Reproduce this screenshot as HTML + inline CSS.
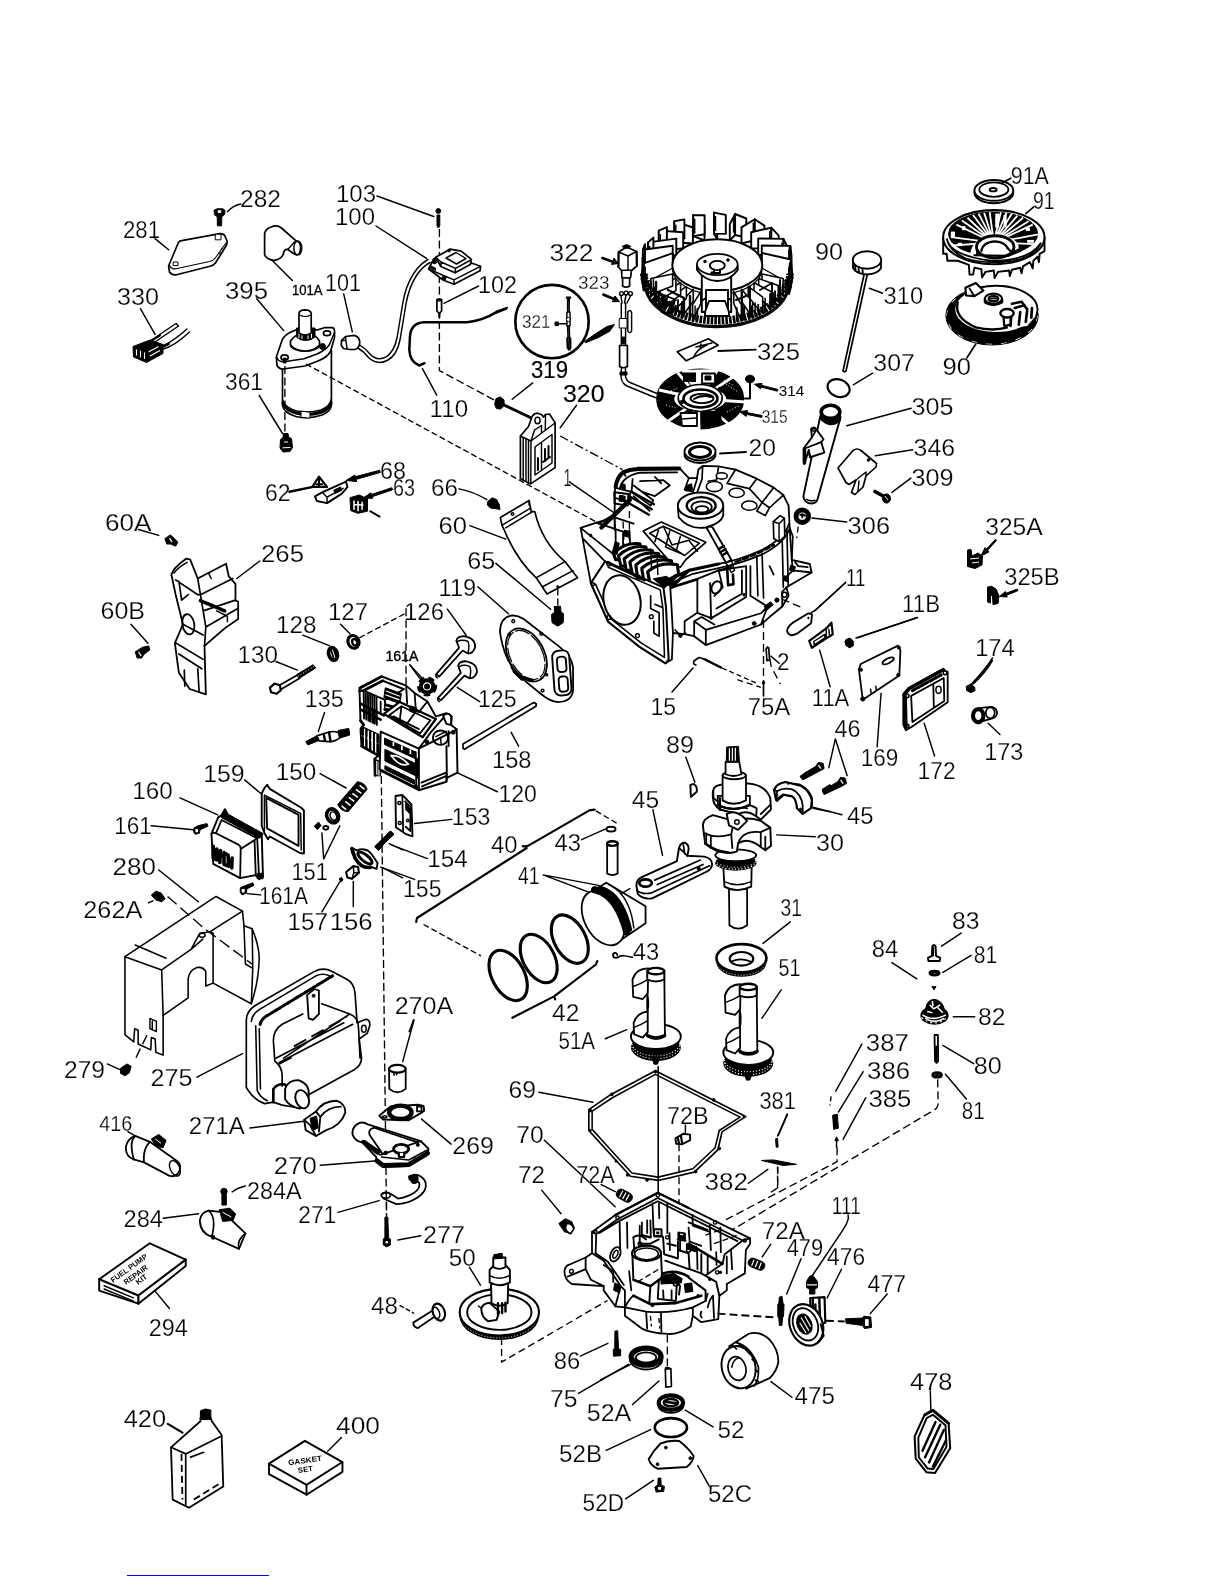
<!DOCTYPE html>
<html><head><meta charset="utf-8"><title>Engine parts diagram</title>
<style>
html,body{margin:0;padding:0;background:#fff}
body{width:1225px;height:1585px;overflow:hidden;position:relative}
svg{display:block;position:absolute;left:0;top:0;will-change:transform}
.l{fill:none;stroke:#000;stroke-width:1.45;stroke-linecap:round;stroke-linejoin:round}
.t{fill:none;stroke:#000;stroke-width:1.1;stroke-linecap:round;stroke-linejoin:round}
.w{fill:#fff;stroke:#000;stroke-width:1.7;stroke-linejoin:round;stroke-linecap:round}
.k{fill:#000;stroke:#000;stroke-width:1;stroke-linejoin:round}
.g{fill:#777;stroke:#000;stroke-width:1;stroke-linejoin:round}
.d{fill:none;stroke:#000;stroke-width:1.35;stroke-dasharray:5 3}
.dd{fill:none;stroke:#000;stroke-width:1.35;stroke-dasharray:9 3 2 3}
.b{fill:none;stroke:#000;stroke-width:2;stroke-linecap:round;stroke-linejoin:round}
.ns *{vector-effect:non-scaling-stroke}
text{font-family:"Liberation Sans",sans-serif;font-size:24.5px;fill:#000;stroke:#fff;stroke-width:0.25px;paint-order:fill stroke}
text.s{font-size:14px;stroke:#000;stroke-width:0.3px}
text.m{font-size:18px;stroke-width:0.3px}
text.sm{font-size:15px;stroke:none}
text.sb{font-size:15px;stroke:#000;stroke-width:0.4px}
text.m2{font-size:22px}
text.bd{stroke:#000;stroke-width:0.15px}
</style></head><body>
<svg width="1225" height="1585" viewBox="0 0 1225 1585">
<!-- 281 cover + 282 screw -->
<g>
<path class="w" d="M168.6 266 L178.4 242.5 Q179.5 240.8 183 240.4 L220 233.6 Q223.5 233.4 225 236 L227 241 Q227.5 243.5 226 246 L215.5 263 Q214 265 210 266.3 L176.5 274.8 Q172 275.5 169.5 272 Z"/>
<path class="t" d="M169.2 264.5 Q170.5 269.5 176 268.8 L209.5 261.5 Q213.5 260.5 215.3 258 L226 243"/>
<rect class="w" x="215.6" y="234.2" width="5.4" height="5.6" style="stroke-width:1"/>
<rect class="w" x="173.6" y="262" width="4.4" height="3.6" style="stroke-width:1"/>
<path class="t" d="M221 250 l1.5 -2 M219 254 l1.2 -1.8"/>
<path class="k" d="M214 210.2 L217 208.8 L223 208.8 L225 210.5 L224.5 214.5 L221.8 216.7 L221.6 225.8 L217.4 225.8 L217.2 216.7 L214.6 214.8 Z"/>
<rect x="217.8" y="210.3" width="3.4" height="2.6" fill="#fff"/>
<path class="l" d="M240.8 204 Q233 205.5 227.4 211.8"/>
<path class="l" d="M153.9 237.6 L168.6 249.8"/>
</g>
<!-- 101A boot -->
<g>
<path class="w" d="M264.6 254.7 L264.6 233.5 Q265.5 229 271 227 Q277 224.5 281.5 228 L296 240.8 Q301.5 241 301.6 248 Q301.5 255 297 255 L293.5 253.5 L287.5 249.3 Q284 249 283.5 253.5 Q282.5 257.5 277.5 259.5 Q273 261.5 268 258.5 Q265 257 264.6 254.7 Z"/>
<ellipse class="l" cx="297.2" cy="248" rx="3.3" ry="6.8"/>
<path class="l" d="M294.5 242 L288 249.3" />
<path class="l" d="M271.4 259.6 L292.3 280.4"/>
</g>
<!-- 330 connector -->
<g>
<path class="k" d="M133 346.5 L150 340 L163 344.5 L163 353.5 L146.5 362.5 L133.5 357 Z"/>
<path d="M136.5 349.5 l0 6 M140.5 350.8 l0 6.5 M144.5 352.5 l0 6.5 M148.5 352 l10 -5.5 M150 356 l10 -5.5" stroke="#fff" stroke-width="1.1" fill="none"/>
<path class="l" d="M150 341 L176 323.5 M153.5 343 L178.5 326 M176 323.5 L178.5 326" />
<path class="l" d="M160 346.5 Q170 344 187 329 M163 349 Q174 346.5 189.5 332"/>
<path class="b" d="M150.5 341.5 L160 335.5 M161 347.5 L169 344"/>
<path class="l" d="M140.4 308.6 L155.1 334.3"/>
</g>
<!-- 395 starter -->
<g>
<path class="w" d="M282.5 366 L282.5 405.5 Q284 413 296 416.5 Q309 419.5 322 415 Q331 411.5 331.4 405 L331.4 350 Z"/>
<path class="l" d="M282.5 400 Q285 408 297 411 Q309 413.5 321 410 Q330 406.5 331.4 399"/>
<path class="b" d="M283 403.5 Q286 410.5 297 413.3 Q309 416 321 412.3 Q329.5 409 331 403" style="stroke-width:3.12"/>
<path class="w" d="M301 411.5 L301 417.3 L310 418.2 L310 412.5 Z" style="stroke-width:1"/>
<path class="w" d="M276.3 357 L282 340.5 Q284 335.5 290 332.5 L297 329.5 L318 329.8 L325 327.5 L332.5 327.6 Q334.8 328.5 334.6 333 L334.4 338 L330.5 351.5 Q327 357.5 318 361 L305 366 L283 369 Q279 369 277 365.5 Z"/>
<path class="l" d="M276.8 357.5 Q278.5 362 284 361.8 L304 358.8 L317 354 Q326 350 329.5 344.5 L334.3 333"/>
<ellipse class="l" cx="305" cy="345" rx="14.5" ry="6.2"/>
<path class="w" d="M290.5 345 L290.5 341 Q296 333 305 333 Q315 333 319.5 341 L319.5 345 Q314 351 305 351 Q296 351 290.5 345 Z"/>
<path class="k" d="M296.5 328 L296.5 337 Q300 340.5 305.5 340.5 Q311.5 340.5 315 337 L315 328 Z"/>
<path d="M299 331 l0 7 M302 332 l0 7 M308 332 l0 7 M311.5 331 l0 7" stroke="#fff" stroke-width="1" fill="none"/>
<path class="w" d="M299 333 L299 313.5 Q299.3 310 305 309.8 Q310.8 310 311.2 313.5 L311.2 333 Q305 337 299 333 Z"/>
<path class="t" d="M299.5 315 Q305 318 311 315"/>
<ellipse class="w" cx="284.6" cy="357.4" rx="3.6" ry="2.6"/>
<ellipse class="w" cx="327" cy="333.3" rx="3.6" ry="2.4"/>
<circle class="k" cx="322.5" cy="346.5" r="3"/>
<path class="k" d="M283.5 358 l2.5 0 l0 5 l-2.5 0 Z"/>
<path class="d" d="M284.9 366 L284.9 434" style="stroke-dasharray:8 3.5"/>
<path class="l" d="M256.7 298.8 L283.7 330.6"/>
<path class="d" d="M306 364 L408 419.5" style="stroke-dasharray:6 3"/>
</g>
<!-- 361 screw -->
<g>
<path class="k" d="M283.5 433.5 L288 433.5 L288.5 437 L291.5 438.5 L292.5 447.5 L290 451.5 L283 452 L280 448 L280.5 439.5 L283 437.5 Z"/>
<path d="M282.5 447.8 L290.5 447.5 M284 442 l4 0" stroke="#fff" stroke-width="1" fill="none"/>
<path class="l" d="M259.2 395.5 L282.5 433.5"/>
</g>
<!-- 101 connector + wire -->
<g>
<path class="w" d="M341.5 340.5 L345.5 336.5 L354 335.3 Q359.5 336.5 359.8 342 Q359.5 348 355.5 349.3 L350 349.5 L343.5 348.5 L341.3 345.5 Z"/>
<path class="l" d="M345.5 336.8 L347 348.8 M341.5 340.5 L346 340.2"/>
<path class="l" d="M343.7 293.9 L352.3 331.8"/>
</g>

<!-- 101 wire double -->
<g>
<path class="l" d="M359.6 345 Q366 349 370 354 Q377 361.5 386 357 Q394 352 397 338 Q400 320 403 302 Q406 285 414 273 Q420 264 428 259.5"/>
<path class="l" d="M358.5 348.5 Q364 351.5 368 357 Q377 366 388 360 Q397 355 400 340 Q403 322 406 304 Q409 287 416.5 275.5 Q422 267 430 262.5"/>
</g>
<!-- 103 -->
<g>
<path class="l" d="M377 196 L433.7 216.5"/>
<circle class="k" cx="438.3" cy="211" r="2.4"/>
<path class="k" d="M437 215 L439.8 215 L439.8 226 L438.4 228 L437 226 Z"/>
<path class="d" d="M439.4 229 L439.4 370.6 L496 401" style="stroke-dasharray:8 3.5"/>
</g>
<!-- 100 module -->
<g>
<path class="l" d="M376 226 L426.5 258.4"/>
<path class="w" d="M428.6 269 L434 258.5 L447 254.5 L480.6 266.2 L480 270.8 L454 284.2 L443 280 Z"/>
<path class="l" d="M428.6 269 L443.5 275.5 L454 279.8 L480.4 266.4 M454 279.8 L454 284"/>
<path class="w" d="M435.7 257.3 L450 249.2 L461.2 251.2 L471.4 259.4 L470.4 264.5 L455.1 272.7 L440.8 266.5 Z"/>
<path class="l" d="M441 262 L455.5 268.3 L470.8 260 M455.5 268.3 L455.2 272.5 M441 262 L436 257.5 M441 262 L441 266.3"/>
<path class="l" d="M446 258 L456 252.5 L466 258.5 L456.5 264 Z"/>
<circle class="k" cx="434.5" cy="261.5" r="2.2"/>
<circle class="k" cx="444" cy="278" r="2"/>
<circle class="k" cx="449" cy="250.5" r="1.4"/>
<path class="k" d="M430.5 266 l5 2 l0 2.4 l-5 -2 Z"/>
</g>
<!-- 102 -->
<g>
<path class="w" d="M436.9 299.5 L441.6 299.5 L441.6 311 L439.8 313 L439.4 318 L438.8 313 L436.9 311 Z"/>
<path class="k" d="M437 299 l4.6 0 l0 2 l-4.6 0 Z"/>
<path class="l" d="M478.6 286 L443.9 303.3"/>
</g>
<!-- 110 wire -->
<g>
<path class="b" d="M496 312.4 Q482 321 467 322.2 L424 322.2 Q411 323 410 336 L409.3 350 Q410 362 419.4 365.5 L424.5 363.2" style="stroke-width:2.52"/>
<path class="l" d="M495.5 313.2 L506.5 309 L507.3 307.4 L496.3 311.2" />
<path class="l" d="M422.4 368.6 L436.7 395.1"/>
</g>
<!-- 321 circle -->
<g>
<circle cx="552" cy="321.6" r="36.7" fill="#fff" stroke="#000" stroke-width="2.64"/>
<path class="l" d="M567.6 300 L567.6 312 M569.2 300 L569.2 312 M566.9 312 L570 312 L570 326 L566.9 326 Z M567.6 326 L568.4 350 M569.2 326 L570 350 M567 338 L570.6 338 L570.8 348 L567.3 348 Z"/>
<path class="k" d="M566 297 L571 297 L568.5 301.5 Z"/>
<circle class="w" cx="568.4" cy="319.5" r="2" style="stroke-width:1"/>
<path class="k" d="M555 322 l3.4 0 l0 3.6 l-3.4 0 Z"/>
<path class="l" d="M558 323.8 L566.5 323.8"/>
<path class="k" d="M584.5 341.5 Q596 333 607 326.5 L614.5 324.5 L609.5 331.5 Q598 338.5 585.5 342.8 Z"/>
</g>
<!-- 322 connector -->
<g>
<path class="k" d="M602 257 L613 261 L614 258 L618 263.5 L611.5 264.5 L612.3 262.5 L601.5 258.6 Z"/>
<path class="w" d="M618.6 252 L626.5 247 L636.6 251.5 L636.8 266 L631.5 270.5 L630.5 278 L622 278 L621.5 270.5 L618.4 267 Z"/>
<path class="l" d="M618.6 252 L628 256 L636.6 251.5 M628 256 L628 270 M621.5 270.5 L628 270 L631.5 270.5"/>
<path class="k" d="M622 246.5 L626.5 244.5 L631 246.5 L626.5 248.6 Z"/>
<path class="b" d="M618.6 252 L618.4 267 M636.7 251.5 L636.8 266"/>
<path class="w" d="M622.6 278 L629.6 278 L629.6 286 Q626 288.5 622.6 286 Z"/>
</g>
<!-- 323 wire assembly -->
<g>
<path class="k" d="M603 293.5 L614 298 L615 296 L619.5 301.5 L612.5 301.8 L613.3 299.7 L602.5 295.2 Z"/>
<circle class="l" cx="621.5" cy="293.5" r="1.9"/><circle class="l" cx="626" cy="293" r="1.9"/><circle class="l" cx="630.5" cy="293.5" r="1.9"/>
<path class="l" d="M621 296 L622 303 M626 295 L624.5 303 M630.5 296 L627 303"/>
<path class="l" d="M621.3 303 L621.3 345 M625.6 303 L625.6 345 M627.8 312 Q629.8 309 631.6 312 L631.6 331 Q629.8 334.5 627.8 331 Z"/>
<path class="w" d="M619.6 318.5 L627 318.5 L627 328 L619.6 328 Z" style="stroke-width:1"/>
<path class="k" d="M622.5 337 l2.2 0 l0 7 l-2.2 0 Z"/>
<path class="w" d="M619.6 345.5 L627.4 345.5 L627.4 366.5 Q623.5 369 619.6 366.5 Z"/>
<path class="l" d="M621.5 368 L621 376 Q621 383 627 386 L650 395.5 L676 405.5 M625.5 368 L625.3 374.5 Q625.5 380.5 630 382.5 L652 391.5 L678 401.5"/>
<path class="k" d="M620 372 l7 0 l0 3 l-7 0 Z"/>
</g>
<!-- 319 screw -->
<g>
<path class="k" d="M496 398.5 L500.5 397 L504 400 L504.2 405.5 L500.5 409.2 L496.2 408.3 L494.6 404 Z"/>
<path class="b" d="M503 404.5 L530.6 417.6" style="stroke-width:2.88;stroke-dasharray:1.4 1"/>
<path class="l" d="M532.7 382.9 L512.2 399.2"/>
</g>
<!-- 320 module -->
<g>
<path class="w" d="M520.4 436 L528.5 426.5 L531.5 418 Q533 413.5 537.5 413.2 L541.5 414.5 L543.5 417 L545.5 414.5 L549.5 414 L555.1 422.7 L555.1 467.6 L530.6 483.9 L520.4 478.8 Z"/>
<path class="l" d="M520.4 436 L531 441 L555 423 M531 441 L530.8 483.5 M523.2 437.5 L523.2 480 M526 438.8 L526 481.5 M528.5 440 L528.5 482.5"/>
<path class="l" d="M531 441 L534.5 430 L541.5 425.5 L541.5 432.5 M545.5 414.5 L545.3 429.5"/>
<ellipse class="l" cx="537.5" cy="420.5" rx="2.6" ry="3.2"/>
<path class="l" d="M535 447 L552 434.5 L552 463 L535 475 Z M541.5 443 L541.5 470.5"/>
<path class="b" d="M538 458 L538 470 M545 449 L545 461 M548.5 446 L548.5 458 M543 462 L550 457"/>
<path class="l" d="M576.5 405.3 L560.2 427.8"/>
<path class="dd" d="M560.2 436 L622.4 469.6"/>
</g>
<path class="d" d="M408 419.5 L600 524" style="stroke-dasharray:6 3"/>
<path class="l" d="M569.4 481.8 L626 521"/>

<!-- flywheel 90 -->
<g>
<ellipse cx="717" cy="281.6" rx="75.5" ry="49" fill="#fff" stroke="none"/>
<path class="w" style="stroke-width:1.92" d="M717.2 239.3 L717.2 223.3 L714.0 212.6 L714.0 233.6 Z"/>
<path class="w" style="stroke-width:1.92" d="M714.0 233.6 L714.0 212.6 L725.8 214.9 L725.8 233.9 Z"/>
<path class="l" d="M715.5 216.6 L715.5 230.6"/>
<path class="w" style="stroke-width:1.92" d="M729.8 240.3 L729.8 224.3 L735.1 214.0 L735.1 235.0 Z"/>
<path class="w" style="stroke-width:1.92" d="M735.1 235.0 L735.1 214.0 L746.3 218.5 L746.3 237.5 Z"/>
<path class="l" d="M733.6 218.0 L733.6 232.0"/>
<path class="w" style="stroke-width:1.92" d="M704.5 240.4 L704.5 224.4 L693.2 215.1 L693.2 236.1 Z"/>
<path class="w" style="stroke-width:1.92" d="M693.2 236.1 L693.2 215.1 L704.6 215.3 L704.6 234.3 Z"/>
<path class="l" d="M694.7 219.1 L694.7 233.1"/>
<path class="w" style="stroke-width:1.92" d="M741.5 243.4 L741.5 227.4 L754.8 219.2 L754.8 240.2 Z"/>
<path class="w" style="stroke-width:1.92" d="M754.8 240.2 L754.8 219.2 L764.4 225.6 L764.4 244.6 Z"/>
<path class="l" d="M753.3 223.2 L753.3 237.2"/>
<path class="w" style="stroke-width:1.92" d="M692.9 243.5 L692.9 227.5 L674.3 221.3 L674.3 242.3 Z"/>
<path class="w" style="stroke-width:1.92" d="M674.3 242.3 L674.3 221.3 L684.4 219.4 L684.4 238.4 Z"/>
<path class="l" d="M675.8 225.3 L675.8 239.3"/>
<path class="w" style="stroke-width:1.92" d="M751.2 248.2 L751.2 232.2 L771.3 227.7 L771.3 248.7 Z"/>
<path class="w" style="stroke-width:1.92" d="M771.3 248.7 L771.3 227.7 L778.7 235.7 L778.7 254.7 Z"/>
<path class="l" d="M769.8 231.7 L769.8 245.7"/>
<path class="w" style="stroke-width:1.92" d="M683.2 248.3 L683.2 232.3 L658.8 230.6 L658.8 251.6 Z"/>
<path class="w" style="stroke-width:1.92" d="M658.8 251.6 L658.8 230.6 L666.9 227.1 L666.9 246.1 Z"/>
<path class="l" d="M660.3 234.6 L660.3 248.6"/>
<path class="w" style="stroke-width:1.92" d="M758.2 254.4 L758.2 238.4 L783.5 238.9 L783.5 259.9 Z"/>
<path class="w" style="stroke-width:1.92" d="M783.5 259.9 L783.5 238.9 L788.0 248.0 L788.0 267.0 Z"/>
<path class="l" d="M782.0 242.9 L782.0 256.9"/>
<path class="w" style="stroke-width:1.92" d="M676.3 254.6 L676.3 238.6 L648.1 242.4 L648.1 263.4 Z"/>
<path class="w" style="stroke-width:1.92" d="M648.1 263.4 L648.1 242.4 L653.4 237.6 L653.4 256.6 Z"/>
<path class="l" d="M649.6 246.4 L649.6 260.4"/>
<path class="w" style="stroke-width:1.92" d="M761.8 261.5 L761.8 245.5 L790.3 245.9 L790.3 272.9 Z"/>
<path class="w" style="stroke-width:1.92" d="M790.3 272.9 L790.3 245.9 L791.5 255.5 L791.5 280.5 Z"/>
<path class="l" d="M788.8 249.9 L788.8 269.9"/>
<path class="w" style="stroke-width:1.92" d="M672.7 261.7 L672.7 245.7 L642.9 249.7 L642.9 276.7 Z"/>
<path class="w" style="stroke-width:1.92" d="M642.9 276.7 L642.9 249.7 L645.0 244.2 L645.0 269.2 Z"/>
<path class="l" d="M644.4 253.7 L644.4 273.7"/>
<path class="w" style="stroke-width:1.92" d="M761.9 268.9 L761.9 252.9 L791.1 259.5 L791.1 286.5 Z"/>
<path class="w" style="stroke-width:1.92" d="M791.1 286.5 L791.1 259.5 L789.0 269.0 L789.0 294.0 Z"/>
<path class="l" d="M789.6 263.5 L789.6 283.5"/>
<path class="w" style="stroke-width:1.92" d="M672.8 269.1 L672.8 253.1 L643.7 263.3 L643.7 290.3 Z"/>
<path class="w" style="stroke-width:1.92" d="M643.7 290.3 L643.7 263.3 L642.5 257.7 L642.5 282.7 Z"/>
<path class="l" d="M645.2 267.3 L645.2 287.3"/>
<ellipse class="w" cx="717.3" cy="265.3" rx="45" ry="26" style="stroke-width:1.92"/>
<path class="w" d="M644.5 283.6 A72.5 44 0 0 0 789.5 283.6 L762.3 268.3 A 45 26 0 0 1 672.3 268.3 Z" style="stroke-width:1.2"/>
<path class="w" style="stroke-width:1.56" d="M762.0 274.0 L762.0 286.0 L783.1 294.6 L783.1 278.6 Z"/>
<path class="l" d="M785.6 279.6 L785.6 293.6"/>
<path class="w" style="stroke-width:1.56" d="M758.7 278.6 L758.7 290.6 L778.2 301.5 L778.2 285.5 Z"/>
<path class="l" d="M780.7 286.5 L780.7 300.5"/>
<path class="w" style="stroke-width:1.56" d="M754.0 282.8 L754.0 294.8 L771.3 307.8 L771.3 291.8 Z"/>
<path class="l" d="M773.8 292.8 L773.8 306.8"/>
<path class="w" style="stroke-width:1.56" d="M748.2 286.4 L748.2 298.4 L762.7 313.2 L762.7 297.2 Z"/>
<path class="l" d="M765.2 298.2 L765.2 312.2"/>
<path class="w" style="stroke-width:1.56" d="M741.4 289.3 L741.4 301.3 L752.6 317.7 L752.6 301.7 Z"/>
<path class="l" d="M755.1 302.7 L755.1 316.7"/>
<path class="w" style="stroke-width:1.56" d="M733.8 291.5 L733.8 303.5 L741.4 320.9 L741.4 304.9 Z"/>
<path class="l" d="M743.9 305.9 L743.9 319.9"/>
<path class="w" style="stroke-width:1.56" d="M700.8 291.5 L700.8 303.5 L692.6 320.9 L692.6 304.9 Z"/>
<path class="l" d="M695.1 305.9 L695.1 319.9"/>
<path class="w" style="stroke-width:1.56" d="M693.2 289.3 L693.2 301.3 L681.4 317.7 L681.4 301.7 Z"/>
<path class="l" d="M683.9 302.7 L683.9 316.7"/>
<path class="w" style="stroke-width:1.56" d="M686.4 286.4 L686.4 298.4 L671.3 313.2 L671.3 297.2 Z"/>
<path class="l" d="M673.8 298.2 L673.8 312.2"/>
<path class="w" style="stroke-width:1.56" d="M680.6 282.8 L680.6 294.8 L662.7 307.8 L662.7 291.8 Z"/>
<path class="l" d="M665.2 292.8 L665.2 306.8"/>
<path class="w" style="stroke-width:1.56" d="M675.9 278.6 L675.9 290.6 L655.8 301.5 L655.8 285.5 Z"/>
<path class="l" d="M658.3 286.5 L658.3 300.5"/>
<path class="w" style="stroke-width:1.56" d="M672.6 274.0 L672.6 286.0 L650.9 294.6 L650.9 278.6 Z"/>
<path class="l" d="M653.4 279.6 L653.4 293.6"/>
<path class="b" style="stroke-width:1.8" d="M787.4 277.2 L787.4 286.2"/>
<path class="b" style="stroke-width:1.8" d="M785.6 281.0 L785.6 291.0"/>
<path class="b" style="stroke-width:1.8" d="M782.9 284.7 L782.9 295.7"/>
<path class="b" style="stroke-width:1.8" d="M779.4 288.1 L779.4 300.1"/>
<path class="b" style="stroke-width:1.8" d="M775.1 291.2 L775.1 304.2"/>
<path class="b" style="stroke-width:1.8" d="M770.1 294.0 L770.1 308.0"/>
<path class="b" style="stroke-width:1.8" d="M764.5 302.5 L764.5 311.5"/>
<path class="b" style="stroke-width:1.8" d="M758.2 304.6 L758.2 314.6"/>
<path class="b" style="stroke-width:1.8" d="M751.4 306.2 L751.4 317.2"/>
<path class="b" style="stroke-width:1.8" d="M744.2 307.3 L744.2 319.3"/>
<path class="b" style="stroke-width:1.8" d="M736.7 307.9 L736.7 320.9"/>
<path class="b" style="stroke-width:1.8" d="M697.3 308.9 L697.3 320.9"/>
<path class="b" style="stroke-width:1.8" d="M689.8 306.3 L689.8 319.3"/>
<path class="b" style="stroke-width:1.8" d="M682.6 303.2 L682.6 317.2"/>
<path class="b" style="stroke-width:1.8" d="M675.8 305.6 L675.8 314.6"/>
<path class="b" style="stroke-width:1.8" d="M669.5 301.5 L669.5 311.5"/>
<path class="b" style="stroke-width:1.8" d="M663.9 297.0 L663.9 308.0"/>
<path class="b" style="stroke-width:1.8" d="M658.9 292.2 L658.9 304.2"/>
<path class="b" style="stroke-width:1.8" d="M654.6 287.1 L654.6 300.1"/>
<path class="b" style="stroke-width:1.8" d="M651.1 281.7 L651.1 295.7"/>
<path class="b" style="stroke-width:1.8" d="M648.4 282.0 L648.4 291.0"/>
<path class="b" style="stroke-width:1.8" d="M646.6 276.2 L646.6 286.2"/>
<path class="b" style="stroke-width:2.4" d="M648 286 L664 297 L664 308 M656 282 L656 300 M668 290 L684 298 L684 312 M672 303 L672 316 M690 296 L690 318 M660 305 Q668 300 674 308 Q670 316 662 312 Z M676 310 l6 3 M650 300 l10 6"/>
<path class="b" style="stroke-width:1.92" d="M742 292 L742 318 M750 286 L750 316 M760 290 L772 283 L772 306 M780 280 L780 300 M736 300 L746 296"/>
<path class="w" style="stroke-width:1.92" d="M701.8 272 L701.8 312 L731.2 312 L731.2 272 Z"/>
<path class="w" style="stroke-width:1.92" d="M697 266 L697 270 Q705 281 717.3 281 Q730 281 737.7 270 L737.7 266 Z"/>
<ellipse class="w" cx="717.3" cy="264.5" rx="20.4" ry="10.6" style="stroke-width:1.8"/>
<ellipse class="l" cx="717.3" cy="265.5" rx="7.5" ry="4.6" style="stroke-width:1.92"/>
<path class="b" d="M714 269.5 L714 273 L720 273 L720 269.5"/>
<circle class="k" cx="705" cy="261.5" r="1.3"/><circle class="k" cx="728" cy="260" r="1.3"/><circle class="k" cx="712" cy="273" r="1.2"/>
<path class="l" d="M706 290 L728 290 M706 290 L706 312 M728 290 L728 312 M703 300 L706 298 M731 300 L728 298" style="stroke-width:1.92"/>
<path class="w" style="stroke-width:1.92" d="M705 312 L709 301 L725 301 L729 312 L729 316 L705 316 Z"/>
<path class="b" d="M652 290 L676 300 M655 296 L672 304 M660 292 L663 300 M668 296 Q664 303 670 306 Q676 305 674 299 M678 300 L678 310 M682 302 L682 311" style="stroke-width:1.8"/>
<path d="M645.5 282.6 A71.5 44 0 0 0 788.5 282.6" fill="none" stroke="#000" stroke-width="1.68"/>
<path d="M644.0 273.6 A73 47 0 0 0 790.0 273.6" fill="none" stroke="#000" stroke-width="7.68" stroke-dasharray="2.6 1.1"/>
<path d="M641.5 275.6 A75.5 50 0 0 0 792.5 275.6" fill="none" stroke="#000" stroke-width="1.2"/>
<path class="l" d="M641.5 275.6 L645.5 247.6 M792.5 275.6 L789.5 247.6" style="stroke-width:1.8"/>
</g>
<!-- 325 key -->
<g>
<path class="w" d="M677.3 351.8 L708.4 338.8 L718.2 345.3 L686.3 360.8 Z"/>
<path class="l" d="M693 358 Q697 349 707 345 M696 347 L712 343 M701 344 L700 349"/>
<path class="l" d="M755.7 349.6 L718.2 351" style="stroke-width:1.8"/>
</g>
<!-- 315 stator -->
<g>
<ellipse cx="700.2" cy="399" rx="35" ry="21.5" fill="#fff" stroke="#000" stroke-width="18"/>
<g stroke="#fff" stroke-width="2.88" fill="none">
<path d="M700 399 L672 366 M700 399 L659 390 M700 399 L664 424 M700 399 L740 372 M700 399 L746 402 M700 399 L733 428"/>
</g>
<g stroke="#fff" stroke-width="1" fill="none" stroke-dasharray="1 2">
<path d="M726 384 L738 392 M727 412 L739 406 M724 380 L734 386 M668 392 L678 388 M666 405 L676 408"/>
</g>
<path d="M700 399 L681 370 L720 369 Z M700 399 L678 430 L700.5 431 Z" fill="#fff"/>
<ellipse cx="700.2" cy="398" rx="22" ry="13.5" fill="#fff" stroke="#000" stroke-width="1.68"/>
<ellipse cx="700.5" cy="398.5" rx="17" ry="9" fill="#fff" stroke="#000" stroke-width="2.64"/>
<ellipse cx="702" cy="398.5" rx="11.5" ry="4.6" fill="#fff" stroke="#000" stroke-width="1.92"/>
<path class="b" d="M694 399 Q702 394 711 397"/>
<path d="M683 372.5 L696 372.5 L696 382 L683 382 Z" fill="#000"/>
<path class="w" d="M702 373.5 L715 373.5 L715 383.5 L702 383.5 Z" style="stroke-width:1.8"/>
<path class="k" d="M705 376 l6 0 l0 4 l-6 0 Z"/>
<path class="w" d="M680.5 413 L697 413 L697 426 L682 426 Z" style="stroke-width:1.8"/>
<path class="l" d="M682 419 L696 418"/>
<path d="M700.5 412 L721 410 L722 424 L701 428 Z" fill="#000"/>
<circle class="k" cx="682" cy="402" r="1.8"/><circle class="k" cx="720" cy="389" r="1.8"/><circle class="k" cx="691" cy="411" r="1.6"/>
<path class="k" d="M762.2 415.6 L747 412.6 L747.6 410.6 L739.6 411.6 L746.2 416.4 L746.6 414.4 L761.8 417.4 Z"/>
</g>
<!-- 314 screw -->
<g>
<ellipse class="k" cx="750" cy="379" rx="4.6" ry="3.8"/>
<path class="b" d="M750 382 L750 398.5 L745 398.5"/>
<path class="k" d="M777.8 389.4 L761.5 385.3 L762 383.3 L754.5 384.3 L760.5 388.8 L761 387 L777.4 391.2 Z"/>
</g>
<!-- 20 seal -->
<g>
<ellipse class="w" cx="700" cy="454.5" rx="15.5" ry="8.5" style="stroke-width:1.92"/>
<ellipse cx="700" cy="451.5" rx="15.5" ry="9" fill="#fff" stroke="#000" stroke-width="1.92"/>
<ellipse cx="700" cy="452" rx="10.5" ry="5.5" fill="#fff" stroke="#000" stroke-width="3.12"/>
<path class="l" d="M746 452 L720 453.5" style="stroke-width:1.8"/>
</g>

<!-- engine block 1 : coords in zoom px of region (570,460) scale 4.7115 -->
<g class="ns" transform="translate(570 460) scale(0.212245)">
<path class="w" style="stroke-width:1.8" d="M50 320 L125 295 L210 270 L212 130 L225 85 L250 58 L320 40 L515 38 L560 85 L598 85 L605 45 L625 28 L700 30 L780 45 L880 88 L960 130 L1005 165 L1030 215 L1035 320 L1045 470 L1130 490 L1138 530 L1020 600 L1030 640 L1000 690 L940 740 L900 775 L640 872 L585 830 L540 820 L485 815 L480 940 L450 958 L330 882 L180 762 L98 580 Z"/>
<!-- top deck inner rim -->
<path class="l" style="stroke-width:1.8" d="M235 135 Q245 78 330 60 L505 58 M212 130 L290 150 L295 90 M215 180 L275 195 L285 150 M250 58 L262 75 M290 150 L380 215 L392 190 L300 120 M300 170 L375 240 M330 100 L440 95 L470 120 L400 170 L340 150 M400 80 L430 110"/>
<path class="k" d="M242 110 l18 6 l0 22 l-18 -6 Z M235 165 l20 6 l0 25 l-20 -6 Z"/>
<path class="b" d="M320 42 L515 40 M215 125 Q222 80 250 58 Q280 44 320 42" style="stroke-width:4.08"/>
<path class="b" d="M282 188 L148 318" style="stroke-width:4.32"/>
<path class="b" d="M290 150 L395 208 M282 172 L385 232 M280 205 L372 258" style="stroke-width:2.4"/>
<path class="d" d="M280 240 L280 420 M250 290 L255 400" style="stroke-dasharray:7 4"/>
<path class="l" d="M208 152 L275 160 L272 215 L210 205 Z M235 170 L258 173 L256 195 L234 192 Z" style="stroke-width:1.92"/>
<!-- top deck right part -->
<path class="l" style="stroke-width:1.68" d="M560 85 L540 140 L580 150 L600 85 M625 28 L622 90 L600 150 M700 30 L690 95 L650 100 M780 45 L740 110 M880 88 L845 135 M960 130 L905 200 L940 225 L1005 165 M905 200 L880 240 L920 262 L940 225 M740 110 L845 135 L905 200"/>
<ellipse class="w" cx="680" cy="125" rx="38" ry="24" style="stroke-width:1.56"/>
<ellipse class="w" cx="785" cy="155" rx="36" ry="22" style="stroke-width:1.56"/>
<ellipse class="w" cx="845" cy="215" rx="36" ry="22" style="stroke-width:1.56"/>
<ellipse class="w" cx="715" cy="75" rx="26" ry="15" style="stroke-width:1.56"/>
<path class="k" d="M548 120 l25 -8 l4 30 l-32 4 Z"/>
<!-- bearing boss -->
<path class="w" style="stroke-width:1.8" d="M508 215 L512 270 Q560 330 640 318 Q710 300 722 262 L722 215 Z"/>
<ellipse class="w" cx="615" cy="215" rx="107" ry="62" style="stroke-width:1.92"/>
<ellipse class="l" cx="618" cy="215" rx="68" ry="40" style="stroke-width:2.4"/>
<ellipse class="l" cx="620" cy="222" rx="48" ry="27" style="stroke-width:1.8"/>
<ellipse class="l" cx="622" cy="232" rx="30" ry="15" style="stroke-width:1.8"/>
<!-- big deck surface arc (front edge of upper deck) -->
<path class="l" style="stroke-width:1.8" d="M1032 300 Q1010 370 900 425 Q800 470 700 490 L560 520 L470 560"/>
<path class="l" style="stroke-width:1.8" d="M1034 325 Q1010 392 905 445 Q800 490 705 508 L580 536 L475 580"/>
<path class="b" d="M780 480 Q880 445 960 400" style="stroke-width:2.64;stroke-dasharray:5 3"/>
<!-- right post -->
<path class="w" style="stroke-width:1.68" d="M958 290 L990 262 L1010 275 L1012 360 L985 385 L960 370 Z"/>
<path class="l" d="M985 300 L985 385 M958 290 L985 300 L1010 275"/>
<path class="l" style="stroke-width:1.68" d="M1000 385 L1005 600 M1022 330 L1028 590 M880 450 L885 640 M905 440 L912 650 M940 500 L960 540 M1045 470 L1050 360 L1035 320"/>
<!-- dipstick stub tube -->
<path class="w" style="stroke-width:1.92" d="M645 322 Q655 308 672 318 L720 400 L760 470 L735 485 L700 420 Z"/>
<path class="b" d="M700 420 L725 405 M708 435 L733 420 M716 450 L741 435" style="stroke-width:2.4"/>
<path class="l" d="M735 485 L760 530 L775 520 L760 470"/>
<!-- left cuboid -->
<path class="l" style="stroke-width:1.8" d="M50 320 L200 440 M62 372 L165 478 M125 295 L270 345 M210 270 L300 300 M215 330 L215 440 M250 345 L250 440 M280 330 L285 430 M200 440 L215 385"/>
<circle class="k" cx="97" cy="355" r="6"/>
<path class="k" d="M255 330 l22 6 l0 28 l-22 -6 Z"/>
<path class="b" d="M210 270 L212 330 M135 300 L230 245" style="stroke-width:2.16"/>
<!-- valve box top -->
<path class="w" style="stroke-width:1.68" d="M345 335 L430 292 L640 388 L545 470 L520 505 L480 490 Z"/>
<path class="l" style="stroke-width:1.56" d="M375 345 L440 312 L610 392 L540 450 Z M420 320 L400 385 M470 335 L450 410 L520 440 M520 360 L500 430 M560 378 L600 430 M440 312 L480 400 L560 378"/>
<!-- fins -->
<g>
<path class="w" style="stroke-width:3.12" d="M205 440 Q260 385 330 395 L335 470 L215 470 Z"/>
<path class="w" style="stroke-width:3.12" d="M228 452 Q285 398 358 410 L364 500 L240 500 Z"/>
<path class="w" style="stroke-width:3.12" d="M255 466 Q312 412 388 426 L394 520 L265 520 Z"/>
<path class="w" style="stroke-width:3.12" d="M282 480 Q340 426 418 442 L424 545 L295 545 Z"/>
<path class="w" style="stroke-width:3.12" d="M310 495 Q370 442 448 458 L455 565 L320 565 Z"/>
<path class="w" style="stroke-width:3.12" d="M338 510 Q398 458 478 475 L486 585 L350 585 Z"/>
<path class="w" style="stroke-width:3.12" d="M366 526 Q424 476 506 494 L512 540 L440 600 L380 600 Z"/>
<path class="l" d="M380 420 L385 520 M410 436 L414 540"/>
</g>
<path class="k" d="M200 440 L215 385 L232 392 L222 445 Z M392 560 L440 600 L470 560 L455 548 Z"/>
<path class="b" d="M478 600 L560 520 M470 562 L560 520 L700 490" style="stroke-width:3.12"/>
<!-- flange face -->
<path class="w" style="stroke-width:2.04" d="M165 478 L440 600 L452 690 L465 940 L450 958 L330 882 L180 762 L98 580 Z"/>
<path class="l" style="stroke-width:1.56" d="M180 505 L425 612 L438 700 L445 925 M120 585 L195 750 L335 862 L445 930"/>
<ellipse class="w" cx="245" cy="660" rx="86" ry="118" transform="rotate(-14 245 660)" style="stroke-width:2.04"/>
<circle class="l" cx="183" cy="490" r="9"/><circle class="l" cx="322" cy="552" r="9"/><circle class="l" cx="183" cy="742" r="9"/><circle class="l" cx="318" cy="828" r="9"/><circle class="l" cx="383" cy="738" r="9"/><circle class="l" cx="108" cy="585" r="7"/>
<path class="l" style="stroke-width:1.68" d="M380 640 L380 700 L420 720 L420 830 L395 815 L395 760 M400 680 L435 695"/>
<path class="b" d="M175 482 L300 540 M305 545 L350 565" style="stroke-width:2.88"/>
<!-- right of flange: crankcase lower body -->
<path class="l" style="stroke-width:1.8" d="M470 560 L478 690 L485 815 M445 555 L470 560 L500 540 M478 600 L600 560 L700 520 L830 500 M600 560 L600 720 L540 760 L540 820 M660 580 L665 745 M600 720 L665 745 L700 725 L830 645 L830 500 M690 700 L810 630 L810 520 M850 640 L930 690 L900 775 M585 760 L640 800 L900 722 L930 690 M640 800 L640 872 M585 760 L585 830 M585 760 L620 740 L680 775 M850 640 L850 500 M700 520 L720 600 L680 640"/>
<path class="b" d="M480 600 L600 562 M700 522 L760 505 M740 500 L745 590 L770 585 L768 540" style="stroke-width:2.64"/>
<ellipse class="l" cx="690" cy="600" rx="22" ry="30" transform="rotate(25 690 600)" style="stroke-width:1.92"/>
<circle class="k" cx="520" cy="828" r="8"/><circle class="k" cx="868" cy="770" r="9"/><circle class="k" cx="665" cy="745" r="6"/><circle class="k" cx="820" cy="635" r="6"/>
<path class="l" d="M495 800 L520 828 L545 815"/>
<!-- right ear -->
<path class="l" style="stroke-width:1.8" d="M1045 470 L1050 520 L1138 530 M1050 520 L1010 560 M1060 480 L1075 500 L1120 505 M1020 600 L1000 620 L1000 690"/>
<path class="k" d="M1040 495 l22 8 l-6 24 l-22 -8 Z M1010 545 l18 6 l-4 22 l-20 -6 Z"/>
<circle class="k" cx="975" cy="660" r="10"/><circle class="l" cx="1010" cy="635" r="12"/>
<path class="k" d="M915 690 l30 -22 l12 14 l-30 26 Z"/>
</g>

<!-- region (380,470) scale 5.568 -->
<g class="ns" transform="translate(380 470) scale(0.179592)">
<!-- 66 -->
<path class="k" d="M600 175 L625 155 L650 165 L665 195 L668 220 L640 215 L615 212 L598 195 Z"/>
<path class="l" d="M440 105 Q520 120 595 165"/>
<path class="l" d="M0 125 L70 108"/>
<!-- 60 baffle -->
<path class="w" d="M670 265 L830 170 L842 232 L862 232 Q900 400 1030 510 L1100 600 L930 690 L870 600 Q760 500 690 330 L680 310 Z"/>
<path class="l" d="M683 305 L838 212 M700 322 L845 235 M870 600 L1030 510 M905 650 L1075 560 M830 170 L830 195"/>
<circle class="l" cx="738" cy="245" r="7"/><circle class="k" cx="990" cy="650" r="6"/>
<path class="l" d="M500 310 L700 385"/>
<!-- 65 -->
<path class="d" d="M990 660 L990 760" style="stroke-dasharray:7 3"/>
<path class="k" d="M970 760 L1005 758 L1008 790 L1022 800 L1020 850 L990 870 L958 850 L955 805 L972 792 Z"/>
<path class="l" d="M645 520 L950 775"/>
<!-- 119 gasket -->
<path class="w" style="stroke-width:1.8" d="M668 900 Q670 815 740 810 Q770 812 800 830 L1000 985 Q1070 1040 1075 1100 L1075 1225 Q1070 1290 990 1292 Q950 1290 900 1250 L790 1160 Q690 1070 668 900 Z"/>
<ellipse class="w" cx="815" cy="1030" rx="100" ry="158" transform="rotate(-27 815 1030)" style="stroke-width:1.8"/>
<ellipse class="l" cx="815" cy="1030" rx="90" ry="146" transform="rotate(-27 815 1030)" style="stroke-width:1.2;stroke-dasharray:14 3"/>
<path class="b" d="M735 1100 Q770 1160 850 1170 M745 1120 L790 1165" style="stroke-width:2.88"/>
<rect class="w" x="965" y="1005" width="95" height="250" rx="35" transform="rotate(-4 1010 1130)" style="stroke-width:1.92"/>
<rect class="l" x="990" y="1040" width="50" height="85" rx="18" transform="rotate(-4 1010 1130)" style="stroke-width:1.92"/>
<rect class="l" x="992" y="1150" width="50" height="85" rx="18" transform="rotate(-4 1010 1130)" style="stroke-width:1.92"/>
<circle class="l" cx="742" cy="842" r="8"/><circle class="l" cx="898" cy="912" r="8"/><circle class="l" cx="905" cy="1228" r="8"/><circle class="l" cx="720" cy="915" r="6"/><circle class="l" cx="928" cy="1140" r="6"/>
<path class="l" d="M545 650 L715 800"/>
<!-- valves 126 125 -->
<path class="w" style="stroke-width:1.8" d="M425 950 Q430 925 470 925 L500 935 Q530 950 530 985 Q520 1020 490 1022 L460 1005 L330 1150 L312 1138 L440 990 Z"/>
<path class="l" d="M430 955 Q460 940 490 955 Q500 975 490 1020 M312 1138 Q308 1150 320 1158"/>
<path class="w" style="stroke-width:1.8" d="M435 1090 Q440 1065 480 1065 L510 1075 Q540 1090 540 1125 Q530 1160 500 1160 L470 1145 L340 1282 L322 1270 L450 1130 Z"/>
<path class="l" d="M440 1095 Q470 1080 500 1095 Q510 1115 500 1158 M322 1270 Q318 1282 330 1290"/>
<path class="l" d="M375 775 L480 920 M555 1290 L430 1210"/>
<!-- 161A gear -->
<circle class="k" cx="262" cy="1205" r="46" style="stroke-width:3.6;stroke-dasharray:6 4"/>
<circle cx="262" cy="1205" r="20" fill="none" stroke="#fff" stroke-width="1.2"/>
<path class="l" d="M165 1085 L240 1165"/>
<!-- dashes -->
<path class="d" d="M145 770 L145 1392" style="stroke-dasharray:8 3.5"/>

<!-- 158 rod upper end -->
<path class="l" d="M700 1385 L860 1295 Q875 1300 870 1312 L715 1400"/>
</g>

<!-- region (930,165) scale 7.205 -->
<g class="ns" transform="translate(930 165) scale(0.138792)">
<!-- 91A -->
<ellipse class="w" cx="460" cy="200" rx="140" ry="75" style="stroke-width:1.92"/>
<ellipse class="w" cx="460" cy="183" rx="140" ry="75" style="stroke-width:1.92"/>
<ellipse class="l" cx="460" cy="177" rx="105" ry="52" style="stroke-width:1.8"/>
<ellipse class="l" cx="455" cy="178" rx="25" ry="12" style="stroke-width:1.92"/>
<path class="l" d="M582 95 L520 130" style="stroke-width:1.68"/>
<!-- 91 fan -->
<path class="w" style="stroke-width:1.92" d="M95 520 L95 640 L120 640 L125 690 L200 690 L280 720 L285 790 L310 790 L320 740 L370 750 L375 810 L400 770 L460 760 L465 815 L490 770 L570 760 L575 800 L590 755 L650 740 L660 780 L670 730 L720 700 L740 745 L745 690 L775 660 L785 700 L790 640 L825 620 L825 520 Z"/>
<ellipse class="w" cx="460" cy="520" rx="365" ry="195" style="stroke-width:2.04"/>
<ellipse cx="455" cy="495" rx="325" ry="160" fill="#000"/>
<g stroke="#fff" fill="none" stroke-width="1.8">
<path d="M460 560 L150 520 M460 560 L190 430 M460 560 L270 380 M460 560 L350 350 M460 560 L430 340 M460 560 L510 340 M460 560 L590 350 M460 560 L670 380 M460 560 L740 430 M460 560 L780 500 M460 560 L760 570 M460 560 L160 580 M460 560 L230 400 M460 560 L310 360 M460 560 L390 345 M460 560 L550 345 M460 560 L630 365 M460 560 L710 405"/>
</g>
<g fill="#fff"><rect x="150" y="480" width="30" height="40"/><rect x="230" y="440" width="25" height="30"/><rect x="690" y="450" width="30" height="25"/><rect x="700" y="540" width="50" height="20"/><rect x="470" y="350" width="28" height="100"/><rect x="530" y="360" width="22" height="90"/><rect x="200" y="560" width="30" height="25"/></g>
<path d="M120 530 Q140 650 440 690 Q720 690 800 560 Q760 660 600 690 Q400 720 250 670 Q140 620 120 530 Z" fill="#fff" stroke="#000" stroke-width="1.8"/>
<path d="M290 640 Q300 520 480 500 Q640 520 640 600 L560 640 Q480 670 290 640 Z" fill="#fff" stroke="none"/>
<ellipse cx="470" cy="590" rx="135" ry="80" fill="#fff" stroke="#000" stroke-width="2.88"/>
<path class="b" d="M370 620 Q380 555 470 550 Q540 555 560 600" style="stroke-width:2.16"/>
<path class="b" d="M320 650 L560 655 L650 620 M340 620 L340 650 M560 600 L600 640" style="stroke-width:2.16"/>
<path class="l" d="M690 350 L750 300" style="stroke-width:1.68"/>
<!-- 90 small flywheel -->
<ellipse cx="447" cy="1085" rx="333" ry="212" fill="#000"/>
<ellipse cx="447" cy="1085" rx="333" ry="212" fill="none" stroke="#fff" stroke-width="2.4" stroke-dasharray="6 9"/>
<ellipse cx="447" cy="1085" rx="333" ry="212" fill="none" stroke="#000" stroke-width="1"/>
<ellipse cx="475" cy="1040" rx="300" ry="170" fill="#fff" stroke="#000" stroke-width="1.92"/>
<path class="b" d="M200 990 Q170 1100 330 1170 Q450 1200 560 1170" style="stroke-width:2.4"/>
<path d="M560 1180 L580 1000 L640 960 L740 1000 L760 1090 L700 1160 Z" fill="#fff" stroke="none"/>
<path class="b" d="M590 1000 L660 985 L700 1040 M610 1030 L680 1010 M640 1150 L650 1060 M690 1130 L700 1050 M730 1100 L735 1030 M580 1160 L585 1090" style="stroke-width:2.64"/>
<path class="w" style="stroke-width:2.16" d="M255 885 L330 850 L385 905 L320 945 L260 940 Z"/>
<path class="l" d="M285 890 L320 945" style="stroke-width:1.92"/>
<path class="w" style="stroke-width:2.16" d="M395 965 L395 990 Q455 1030 520 990 L520 965 Z"/>
<ellipse class="w" cx="457" cy="963" rx="62" ry="36" style="stroke-width:2.16"/>
<ellipse class="l" cx="457" cy="963" rx="35" ry="18" style="stroke-width:2.16"/>
<path class="l" d="M435 963 L480 960" style="stroke-width:1.92"/>
<path class="w" style="stroke-width:2.16" d="M530 1100 L535 1160 L580 1150 L580 1095 Z"/>
<ellipse class="w" cx="555" cy="1068" rx="48" ry="30" style="stroke-width:2.4"/>
<path class="l" d="M330 1290 L265 1390" style="stroke-width:1.68"/>
</g>
<!-- 310 dipstick -->
<g>
<path class="w" d="M864.6 272 L867.8 272 L846 371 Q844.5 372.5 843 371 Z"/>
<path class="w" style="stroke-width:1.8" d="M853 262 L853 268 Q856 274 867 274.5 Q878 274 881 268 L881 260 Z"/>
<ellipse class="w" cx="867" cy="260" rx="14.2" ry="8.8" style="stroke-width:1.92"/>
<path class="b" d="M855 266 L855.5 270 M858.5 268.5 L859 272.5 M862.5 270 L862.8 274" style="stroke-width:1.92"/>
<path class="l" d="M882.6 293.2 L869.3 288.2"/>
</g>
<!-- 307 o-ring -->
<g>
<ellipse class="w" cx="838.6" cy="388.1" rx="11.3" ry="8.6" transform="rotate(20 838.6 388.1)" style="stroke-width:2.16"/>
<path class="l" d="M872.6 373.2 L853.3 384.8"/>
</g>
<!-- 305 tube -->
<g class="ns" transform="translate(770 380) scale(0.155102)">
<path class="w" style="stroke-width:1.92" d="M325 230 L215 750 Q222 795 268 796 Q300 792 306 770 L455 240 Z"/>
<path class="l" d="M235 770 Q260 785 290 775"/>
<path class="k" d="M326 205 L326 255 Q390 320 455 262 L455 205 Z"/>
<ellipse cx="390" cy="205" rx="60" ry="42" fill="#fff" stroke="#000" stroke-width="3.6"/>
<path class="w" style="stroke-width:1.92" d="M265 315 Q285 295 300 320 L345 382 L330 400 L350 468 L258 498 L250 452 L228 520 L220 540 L218 440 L270 370 Z"/>
<path class="l" style="stroke-width:1.8" d="M228 440 L330 400 M250 452 L258 498 M270 370 L300 320"/>
<path class="b" d="M222 445 L222 535" style="stroke-width:3.6"/>
<circle class="l" cx="283" cy="322" r="9"/>
<path class="l" d="M910 182 L495 295"/>
<!-- 306 -->
<circle cx="208" cy="878" r="40" fill="#fff" stroke="#000" stroke-width="5.04"/>
<path class="l" d="M195 870 Q210 860 225 875 M208 868 L208 885" style="stroke-width:1.92"/>
<path class="l" d="M270 890 L495 915"/>
<path class="d" d="M182 945 L172 1020" style="stroke-dasharray:6 4"/>
</g>
<!-- 346 bracket -->
<g>
<path class="w" style="stroke-width:1.68" d="M838 468 L853 450.5 Q857 447.5 861 450.5 L876.5 463.5 L876 467 L866 476 L863 487 L855 494.5 L851.5 492.5 L856 480 L849 484.5 L846 482.5 Z"/>
<path class="l" d="M856 480 L866 472 L866 476 M859 481 L858 491"/>
<circle class="k" cx="868.5" cy="460" r="1.3"/>
<path class="l" d="M912.6 449.8 L875.3 455.8"/>
</g>
<!-- 309 screw -->
<g>
<path class="b" d="M875 491.5 L884 496.5" style="stroke-width:3.6;stroke-dasharray:1.4 1"/>
<ellipse class="k" cx="886.5" cy="498.5" rx="4" ry="4.6"/>
<path d="M885 496 l3 4" stroke="#fff" stroke-width="0.9"/>
<path class="l" d="M910.9 478.1 L891.9 492.4"/>
</g>

<!-- 325A -->
<g>
<path class="k" d="M967.5 550 L971 549.5 L972 556 L978 553 L982.5 556 L982 565 L975 568.5 L967.5 566.5 Z"/>
<path d="M970 559 l9 -1 M972 563 l7 -1" stroke="#fff" stroke-width="1"/>
<path class="k" d="M995.5 539.3 L986.5 549 L985 547.6 L981 556 L989 552 L987.6 550.2 L996.5 540.5 Z"/>
</g>
<!-- 325B -->
<g>
<path class="k" d="M987.5 587 L991.5 586.3 L996 589 L999 596 L998 603.5 L993 604.6 L992.5 596 L990.5 595 L990.5 603 L987.5 602 Z"/>
<path class="k" d="M1017.3 589 L1006 593.3 L1005.4 591.5 L999.5 596.5 L1007.2 597 L1006.6 595.2 L1017.8 590.8 Z"/>
</g>
<!-- leaders 11, 11B, 174 -->
<path class="l" d="M845.3 583 L816 609.6 L800 620"/>
<path class="l" d="M915.9 618 L856 638"/>
<path class="k" d="M846 639.5 L850 638 L853.3 641 L853 645.5 L849.5 647.5 L846 645 L845 642 Z"/>
<path class="l" d="M992.5 658 Q985 670 970.9 684.6"/>

<!-- region (90,460) scale 3.712 -->
<g class="ns" transform="translate(90 460) scale(0.269388)">
<!-- 62 -->
<path class="w" style="stroke-width:2.16" d="M825 100 L850 62 L880 100 Z"/>
<path class="b" d="M850 70 L850 98 M840 90 L862 90" style="stroke-width:2.16"/>
<path class="w" style="stroke-width:1.92" d="M835 135 L862 120 L950 80 L956 100 L935 125 L880 160 L842 152 Z"/>
<path class="l" d="M862 120 L880 138 L880 160 M880 138 L940 105"/>
<path class="k" d="M905 112 l25 -12 l5 12 l-25 12 Z"/>
<path class="b" d="M740 118 L828 100" style="stroke-width:2.4"/>
<!-- 68 -->
<path class="k" d="M1075 38 L985 62 L983 56 L950 76 L990 80 L988 72 L1078 46 Z"/>
<!-- 63 -->
<path class="k" d="M965 140 L1000 130 L1030 145 L1030 190 L995 198 L968 188 Z"/>
<path stroke="#fff" stroke-width="1.56" fill="none" d="M980 150 L980 185 M995 152 L995 190 M1010 155 L1010 185 M980 165 L1015 168"/>
<path class="k" d="M1120 103 L1045 128 L1043 122 L1012 142 L1050 142 L1048 136 L1122 111 Z"/>
<path class="l" d="M1040 190 L1075 210" style="stroke-width:1.92"/>
<!-- 60A -->
<path class="k" d="M278 292 L298 278 L312 290 L326 305 L318 320 L300 312 L285 312 Z"/>
<path stroke="#fff" stroke-width="1.2" fill="none" d="M295 290 L305 305"/>
<path class="l" d="M180 258 L255 280"/>
<!-- 265 -->
<path class="w" style="stroke-width:1.8" d="M302 425 Q310 400 358 366 L372 370 L400 440 L505 385 L515 432 L540 460 L540 522 L550 526 L550 590 L500 625 L425 690 L430 870 L370 850 L330 790 L315 680 L345 610 L318 500 Z"/>
<path class="l" style="stroke-width:1.68" d="M312 420 Q325 400 360 380 M318 445 L400 500 L410 500 L400 440 M410 500 L530 440 M410 500 L420 560 L540 520 M420 560 L430 620 L425 690 M430 620 L550 550 M345 610 L420 650 M320 680 L420 740 M330 720 L415 775 M350 780 L352 840 M400 775 L405 860 M330 450 L340 520 L365 500"/>
<path class="b" d="M410 522 L500 560" style="stroke-width:3.6;stroke-dasharray:3 2"/>
<path class="l" d="M470 560 L510 580 L510 600 M440 420 L450 440"/>
<ellipse class="l" cx="365" cy="610" rx="22" ry="38" transform="rotate(-10 365 610)" style="stroke-width:1.8"/>
<path class="l" d="M630 375 L545 440"/>
<!-- 60B -->
<path class="k" d="M168 712 L195 695 L218 690 L222 705 L200 722 L192 735 L175 735 Z"/>
<path stroke="#fff" stroke-width="1.2" fill="none" d="M180 712 L190 728"/>
<path class="l" d="M152 610 L215 680"/>
<!-- 127 -->
<ellipse cx="978" cy="675" rx="20" ry="24" fill="#fff" stroke="#000" stroke-width="3.12" transform="rotate(-20 978 675)"/>
<ellipse class="l" cx="982" cy="678" rx="9" ry="12" transform="rotate(-20 978 675)" style="stroke-width:2.4"/>
<path class="l" d="M930 610 L965 645"/>
<path class="d" d="M1000 660 L1170 570" style="stroke-dasharray:6 3"/>
<!-- 128 -->
<ellipse cx="902" cy="720" rx="16" ry="24" fill="#fff" stroke="#000" stroke-width="3.6" transform="rotate(-15 902 720)"/>
<path class="b" d="M895 705 L905 738 M905 702 L914 730" style="stroke-width:1.92"/>
<path class="l" d="M790 650 L890 690"/>
<!-- 130 bolt -->
<path class="w" style="stroke-width:1.8" d="M700 838 L770 798 L778 810 L708 852 Z"/>
<path class="k" d="M768 796 L828 760 L838 772 L778 810 Z"/>
<path stroke="#fff" stroke-width="0.9" fill="none" stroke-dasharray="1 2" d="M772 803 L832 766"/>
<path class="w" style="stroke-width:2.16" d="M668 845 L685 830 L705 836 L708 855 L692 868 L672 862 Z"/>
<path class="l" d="M690 748 L770 780"/>
</g>

<!-- region (180,700) scale 5.568 -->
<g class="ns" transform="translate(180 700) scale(0.179592)">
<!-- 135 plug -->
<path class="k" d="M700 232 L760 200 L775 225 L712 250 Z"/>
<path class="w" style="stroke-width:1.68" d="M762 200 L830 178 Q870 170 885 185 L890 210 Q860 235 830 232 L775 228 Z"/>
<path class="b" d="M800 190 L808 228 M830 180 L838 230" style="stroke-width:2.4"/>
<path class="k" d="M880 170 L940 158 L945 195 L890 212 Z"/>
<path class="l" d="M805 70 L770 175"/>
<!-- 159 gasket -->
<path class="w" style="stroke-width:1.92" d="M455 520 L470 490 L485 472 L500 495 L675 600 L690 615 L690 855 L668 852 L500 760 L490 775 L472 745 L455 700 Z"/>
<path class="w" style="stroke-width:1.92" d="M480 545 L660 640 L660 812 L485 715 Z"/>
<path class="l" d="M470 530 L470 730 M470 530 L672 632 L675 835"/>
<path class="l" d="M360 445 L455 525"/>
<!-- 150 spring -->
<path class="k" d="M878 582 L988 455 Q1030 460 1042 497 L936 622 Q895 620 878 582 Z"/>
<path stroke="#fff" stroke-width="1.56" fill="none" d="M900 590 L925 610 M920 565 L950 588 M940 542 L970 565 M960 520 L990 542 M980 497 L1010 520 M1000 475 L1028 498"/>
<path class="l" d="M780 410 L925 490"/>
<!-- 151 -->
<ellipse cx="850" cy="645" rx="32" ry="40" transform="rotate(-25 850 645)" fill="#fff" stroke="#000" stroke-width="3.6"/>
<ellipse class="l" cx="853" cy="648" rx="17" ry="24" transform="rotate(-25 850 645)"/>
<path class="k" d="M748 702 L772 680 L785 700 L765 722 Z"/>
<ellipse class="l" cx="812" cy="712" rx="14" ry="10" style="stroke-width:1.92"/>
<path class="l" d="M800 885 L790 740 M800 885 L890 700"/>
<!-- 160 cover -->
<path class="w" style="stroke-width:1.92" d="M175 745 L212 655 L232 640 L250 608 L268 640 L455 745 L462 985 L440 998 L420 975 L335 992 L185 912 Z"/>
<path class="l" style="stroke-width:1.8" d="M175 745 Q180 735 200 742 L325 805 Q340 815 338 830 L335 990 M200 742 L232 668 L430 770 L338 830 M430 770 L440 985 M415 780 L422 975"/>
<path class="b" d="M245 635 L452 748 M240 650 L440 760" style="stroke-width:4.08;stroke-dasharray:9 3"/>
<path class="k" d="M232 640 L250 608 L268 640 Z M430 965 l32 0 l0 30 l-32 0 Z"/>
<path class="b" d="M185 815 L185 880 L205 890 L205 830 M225 838 L222 905 M245 850 L245 915 L270 925 L268 865 L245 850 M290 880 L288 935 M215 860 L235 868" style="stroke-width:3.6"/>
<path class="l" d="M0 545 L210 640"/>
<!-- 161, 161A screws -->
<path class="k" d="M78 712 L100 700 L150 688 L156 702 L112 722 L108 742 L85 748 L76 735 Z"/>
<rect x="86" y="718" width="14" height="18" fill="#fff"/>
<path class="l" d="M-160 700 L75 722"/>
<path class="k" d="M336 1045 L360 1035 L405 1018 L412 1032 L372 1052 L370 1075 L345 1085 L335 1070 Z"/>
<rect x="344" y="1052" width="16" height="20" fill="#fff"/>
<path class="l" d="M450 1085 L375 1078"/>
<!-- 154 pin -->
<path class="k" d="M1085 815 L1175 732 L1192 748 L1135 800 L1105 838 Z"/>
<path class="l" d="M1165 800 L1240 835"/>
<!-- 155 -->
<path class="w" style="stroke-width:1.92" d="M955 822 L985 838 Q1040 815 1075 870 L1100 908 L1095 940 L1065 930 Q1010 945 975 880 L958 850 Z"/>
<ellipse class="l" cx="1030" cy="880" rx="48" ry="18" transform="rotate(38 1030 880)" style="stroke-width:2.88"/>
<path class="b" d="M958 830 L975 880 Q1010 940 1060 932" style="stroke-width:3.6"/>
<path class="l" d="M1130 935 L1240 990"/>
<!-- 156 -->
<path class="w" style="stroke-width:2.04" d="M925 958 L965 925 L992 930 L996 962 L958 995 L932 988 Z"/>
<path class="l" d="M965 925 L968 960 L958 995 M968 960 L996 962"/>
<path class="l" d="M965 1150 L965 1010"/>
<!-- 157 -->
<path class="k" d="M886 996 L900 988 L908 1002 L896 1014 Z"/>
<path class="l" d="M790 1180 L890 1012"/>
</g>

<!-- region (300,640) scale 4.7115 -->
<g class="ns" transform="translate(300 640) scale(0.212245)">
<!-- 127/128/130 are in other file -->
<!-- head 120 -->
<path class="w" style="stroke-width:1.92" d="M280 225 L385 172 L500 215 L540 250 L600 290 L640 360 L690 345 L715 360 L712 400 L738 420 L742 625 L692 650 L690 668 L560 708 L372 612 L352 640 L350 560 L370 545 L290 500 L285 420 L300 400 L285 380 Z"/>
<!-- top-left box with fins -->
<path class="l" style="stroke-width:1.92" d="M300 238 L390 192 L490 232 L400 282 Z M300 238 L302 370 M320 248 L322 380 M340 258 L342 390 M360 268 L362 400 M400 282 L402 330"/>
<path class="k" d="M402 225 L478 252 L470 300 L395 272 Z M402 300 L470 320 L440 345 L395 330 Z"/>
<path stroke="#fff" stroke-width="1.2" fill="none" d="M405 240 L470 265 M402 258 L468 282 M402 315 L455 330"/>
<path class="b" d="M285 300 L395 355 M290 330 L380 375 M330 320 L330 380 M350 330 L350 390" style="stroke-width:2.64"/>
<!-- left lower fins -->
<path class="k" d="M288 405 L372 445 L372 545 L290 500 Z"/>
<path stroke="#fff" stroke-width="1.56" fill="none" d="M305 418 L305 505 M322 426 L322 515 M340 434 L340 524 M357 442 L357 534 M290 450 L370 490"/>
<path class="k" d="M352 560 L380 575 L380 640 L352 640 Z"/>
<path stroke="#fff" stroke-width="1.2" fill="none" d="M362 570 L362 635 M372 575 L372 638"/>
<path class="b" d="M285 225 L385 172 M280 240 L300 238 M285 380 L300 400 M290 500 L370 545 M300 238 L390 192" style="stroke-width:2.64"/>
<path class="l" style="stroke-width:1.8" d="M310 250 L312 375 M330 258 L332 385 M350 263 L352 395 M380 290 L380 340 M295 410 L295 500 M312 420 L312 510 M330 428 L330 520 M348 437 L348 530 M365 445 L365 540"/>
<!-- rocker box top -->
<path class="w" style="stroke-width:2.16" d="M395 348 L470 292 L640 372 L578 458 Z"/>
<path class="l" style="stroke-width:1.8" d="M420 355 L478 312 L615 378 L565 440 Z M440 360 L560 420 M478 312 L470 380 M540 345 L500 400 M500 215 L505 300 M540 250 L545 320 M600 290 L560 340 L520 320"/>
<path class="k" d="M520 310 l30 10 l-5 25 l-30 -10 Z"/>
<!-- front-left dark face -->
<path class="w" style="stroke-width:2.04" d="M380 432 L560 512 L560 702 L375 608 Z"/>
<path class="k" d="M398 462 L545 528 L545 560 L398 492 Z M400 515 L545 582 L545 640 L400 570 Z M400 592 L540 660 L540 680 L400 610 Z"/>
<path stroke="#fff" stroke-width="1.68" fill="none" d="M430 545 Q470 540 510 585 Q470 600 430 545 Z M440 480 L440 500 M480 498 L480 520 M520 516 L520 538"/>
<path class="l" d="M545 528 L548 690 M552 560 L552 650" style="stroke-width:1.8"/>
<!-- front-right face -->
<path class="l" style="stroke-width:1.92" d="M560 512 L620 430 L690 350 M560 512 L738 422 M578 458 L640 372 M690 500 L692 650 M700 430 L700 500 M575 690 L690 640 M572 672 L688 625 M690 625 L690 665"/>
<ellipse class="l" cx="662" cy="460" rx="36" ry="34" style="stroke-width:1.92"/>
<path class="l" d="M640 455 L690 430 M662 460 L665 490"/>
<circle class="k" cx="722" cy="435" r="9"/><circle class="k" cx="598" cy="480" r="9"/><circle class="k" cx="545" cy="690" r="8"/>
<path class="w" style="stroke-width:1.92" d="M675 360 Q680 345 700 348 Q715 355 712 372 L712 400 L690 395 Z"/>
<!-- 161A leader + dashed handled elsewhere -->
<path class="l" d="M520 120 L575 195"/>
<!-- 158 rod -->
<path class="w" style="stroke-width:1.68" d="M768 490 L1100 295 L1112 300 L1112 312 L775 515 L768 510 Z"/>
<path class="l" d="M1030 500 L995 435"/>
<!-- leaders -->
<path class="l" d="M930 715 L740 625"/>
<!-- 153 plate -->
<path class="w" style="stroke-width:1.92" d="M450 735 L482 730 L525 775 L530 925 L500 915 L452 882 Z"/>
<path class="l" style="stroke-width:1.8" d="M482 730 L486 900 M495 760 L520 785 L520 900 L498 880"/>
<path class="k" d="M498 770 l18 18 l0 30 l-18 -18 Z"/>
<circle class="l" cx="468" cy="768" r="7"/><circle class="l" cx="470" cy="862" r="7"/><circle class="l" cx="508" cy="850" r="6"/>
<path class="l" d="M715 845 L540 865"/>
<!-- 154 pin (second view) -->
<path class="k" d="M352 975 L425 900 L442 915 L400 955 L372 990 Z"/>
<path class="l" d="M600 1030 L430 965"/>
<!-- 155 leader -->
<path class="l" d="M380 1070 L540 1128"/>
</g>

<!-- region (50,870) scale 3.4028 -->
<g class="ns" transform="translate(50 870) scale(0.293878)">
<!-- 280 shroud -->
<path class="w" style="stroke-width:1.56" d="M255 295 L565 90 L655 140 L660 190 L688 200 Q712 260 712 300 Q710 380 685 455 L555 385 L530 395 L530 345 Q520 328 500 332 Q475 340 470 370 L470 435 L385 495 L385 630 L360 620 L358 575 L345 570 L343 612 L300 592 L300 545 L288 540 L285 585 L255 560 Z"/>
<path class="l" style="stroke-width:1.56" d="M255 295 L380 340 L385 495 M380 340 L480 270 L510 215 L545 210 L555 215 L555 385 M480 270 L520 235 M655 140 L545 210 M290 255 L395 300 M660 190 L665 320 L690 335 L685 455 M688 200 L690 335"/>
<ellipse class="l" cx="518" cy="222" rx="10" ry="7"/>
<path class="l" d="M340 505 L362 515 L362 550 L340 540 Z M348 515 L348 540"/>
<path class="l" d="M370 0 L505 108"/>
<!-- 262A screw + dash -->
<path class="k" d="M345 85 L360 72 L378 78 L392 98 L380 108 L360 102 Z"/>
<path class="d" d="M400 90 L520 195 L560 225 L690 322" style="stroke-dasharray:12 5"/>
<path class="l" d="M335 112 L350 105"/>
<!-- 279 screw -->
<path class="k" d="M240 675 L262 660 L276 668 L270 690 L255 700 L240 692 Z"/>
<path class="l" d="M195 660 L240 680"/>
<path class="d" d="M330 562 L292 640" style="stroke-dasharray:10 5"/>
<!-- 275 muffler -->
<path class="w" style="stroke-width:1.68" d="M668 510 Q668 480 700 460 L900 345 Q930 330 960 345 L1010 372 Q1035 385 1038 420 L1045 520 L1075 508 Q1090 510 1088 530 L1080 555 L1052 575 L1060 640 Q1060 665 1035 680 L880 765 L850 810 L790 800 L760 790 L730 795 Q690 780 668 740 Z"/>
<path class="l" style="stroke-width:1.56" d="M685 515 Q688 490 712 475 L905 360 Q930 350 950 360 M700 530 L705 750 Q715 775 740 785 M712 540 L716 745"/>
<path class="b" d="M715 525 Q720 505 740 495 L965 358" style="stroke-width:3.12;stroke-dasharray:3 2"/>
<path class="l" style="stroke-width:1.68" d="M760 580 Q760 545 790 525 L860 490 M925 455 L1020 490 Q1050 500 1050 540 L1055 640 M1020 490 L795 640 M760 580 L765 650 Q790 670 790 700 L790 735 M770 640 L1000 520 M780 655 L1030 525"/>
<path class="d" d="M830 600 L1010 500 M780 660 L840 628" style="stroke-dasharray:14 6;stroke-width:1.92"/>
<path class="w" style="stroke-width:1.8" d="M875 425 L900 405 L915 410 L915 490 L895 510 L880 505 Z"/>
<circle class="k" cx="897" cy="428" r="5"/>
<ellipse class="l" cx="1068" cy="540" rx="8" ry="12"/>
<path class="b" d="M760 790 L760 745 Q775 725 800 730 L815 745" style="stroke-width:2.64"/>
<path class="w" style="stroke-width:1.92" d="M800 745 Q810 715 845 715 Q875 725 880 750 L880 775 L850 812 Q815 805 800 780 Z"/>
<ellipse class="w" cx="858" cy="780" rx="22" ry="32" transform="rotate(-20 858 780)" style="stroke-width:1.92"/>
<path class="l" d="M500 705 L655 625"/>
<!-- 271A clamp -->
<path class="w" style="stroke-width:1.92" d="M865 850 L905 822 Q930 785 975 785 Q1005 795 1005 825 Q990 870 940 885 L905 905 L870 885 Z"/>
<path class="l" style="stroke-width:1.8" d="M920 840 Q945 805 990 805 M905 822 L920 840 L915 890 M865 850 L885 868 L905 905"/>
<path class="k" d="M885 845 l22 -8 l6 40 l-20 10 Z"/>
<path class="l" d="M680 878 L865 855"/>
<!-- 416 -->
<path class="w" style="stroke-width:1.8" d="M258 945 Q262 915 290 905 L340 925 L425 985 Q450 1000 440 1025 Q430 1048 405 1040 L320 995 L285 985 Q258 975 258 945 Z"/>
<path class="l" style="stroke-width:1.8" d="M290 905 Q268 925 285 985 M340 925 Q315 950 320 995"/>
<ellipse class="l" cx="425" cy="1015" rx="16" ry="28" transform="rotate(-25 425 1015)"/>
<path class="k" d="M345 915 L370 900 L395 920 L385 945 L360 940 Z"/>
<path stroke="#fff" stroke-width="1" fill="none" d="M358 915 l20 15"/>
<path class="l" d="M265 890 L290 905"/>
<!-- 284A -->
<circle class="k" cx="592" cy="1094" r="11"/>
<path class="k" d="M585 1100 L600 1100 L600 1140 L585 1140 Z"/>
<path class="l" d="M665 1075 Q640 1080 620 1095"/>
<!-- leaders -->
<path class="l" d="M385 1185 L505 1170 M980 1165 L1120 1125 M920 1005 L1105 990"/>
</g>
<path class="d" d="M381.3 776 L386.5 1215" style="stroke-dasharray:8 3.5"/>

<!-- region (400,790) scale 3.828 -->
<g class="ns" transform="translate(400 790) scale(0.261224)">
<!-- 40 bracket -->
<path class="b" d="M470 215 Q490 218 500 208 L725 78 L745 75 M485 222 L65 490 L62 505" style="stroke-width:2.16"/>
<path class="d" d="M750 80 L835 130 M90 515 L310 635" style="stroke-dasharray:6 3"/>
<!-- 43 ring + pin -->
<ellipse class="l" cx="808" cy="150" rx="17" ry="9" style="stroke-width:1.92"/>
<path class="l" d="M695 190 L790 148"/>
<path class="w" style="stroke-width:1.8" d="M793 205 L793 320 Q813 332 833 320 L833 205 Z"/>
<ellipse class="w" cx="813" cy="205" rx="20" ry="9" style="stroke-width:2.4"/>
<!-- 41 piston -->
<path class="w" style="stroke-width:1.8" d="M740 385 L790 355 L940 445 L940 510 L830 585 Z"/>
<ellipse class="w" cx="778" cy="490" rx="72" ry="112" transform="rotate(-28 778 490)" style="stroke-width:1.8"/>
<path class="b" d="M745 382 Q830 400 868 545" style="stroke-width:7.2;stroke-dasharray:3 1.2"/>
<path class="b" d="M765 372 Q850 395 882 535" style="stroke-width:3.6"/>
<path class="l" d="M800 362 Q880 400 895 528 M850 395 L880 378"/>
<path class="l" d="M548 325 L720 390 M548 325 L760 365"/>
<!-- rings 42 -->
<ellipse class="l" cx="650" cy="571" rx="60" ry="100" transform="rotate(-28 650 571)" style="stroke-width:3.12"/>
<ellipse class="l" cx="531" cy="645" rx="60" ry="100" transform="rotate(-28 531 645)" style="stroke-width:3.12"/>
<ellipse class="l" cx="414" cy="710" rx="62" ry="104" transform="rotate(-28 414 710)" style="stroke-width:3.12"/>
<path class="b" d="M430 872 L590 790 L750 668 L755 655 M590 790 L594 802" style="stroke-width:2.16"/>
<!-- 43 clip -->
<path class="l" style="stroke-width:1.8" d="M832 632 Q830 622 820 624 Q812 630 818 640 Q830 646 842 636 L855 634"/>
<path class="l" d="M890 640 L855 634"/>
<!-- conrod 45 -->
<path class="w" style="stroke-width:1.92" d="M905 365 Q905 340 930 332 L1060 272 L1068 222 Q1075 200 1092 202 Q1108 210 1104 232 L1100 252 L1165 255 Q1195 262 1195 285 Q1192 305 1175 312 L1000 398 L965 415 Q930 420 910 398 Z"/>
<path class="l" style="stroke-width:1.68" d="M908 385 Q925 400 960 395 L1185 290 M975 345 L1150 268 M985 362 L1160 285 M1068 222 Q1085 235 1100 252 M1085 210 L1090 245"/>
<ellipse class="l" cx="940" cy="356" rx="24" ry="14" style="stroke-width:2.64"/>
<circle class="k" cx="1143" cy="300" r="6"/>
<path class="l" d="M968 75 L1005 250"/>
<!-- 270A leader -->
<path class="l" d="M52 880 L35 925"/>
</g>

<!-- region (620,730) scale 4.4048 -->
<g class="ns" transform="translate(620 730) scale(0.227027)">
<!-- 89 -->
<path class="w" style="stroke-width:1.92" d="M310 242 L325 238 Q342 248 338 272 L312 295 Z"/>
<path class="l" d="M290 120 L330 230"/>
<!-- crankshaft 30 -->
<path class="w" style="stroke-width:1.8" d="M480 700 L482 860 Q520 890 560 860 L560 700 Z"/>
<path class="w" style="stroke-width:1.8" d="M455 600 L460 690 Q515 720 578 690 L580 600 Z"/>
<path class="l" d="M460 668 Q515 695 578 668"/>
<ellipse cx="510" cy="584" rx="92" ry="36" fill="#000"/>
<ellipse cx="510" cy="580" rx="89" ry="33" fill="none" stroke="#fff" stroke-width="1.2" stroke-dasharray="1.2 2"/><ellipse cx="510" cy="572" rx="89" ry="33" fill="none" stroke="#fff" stroke-width="1" stroke-dasharray="1 2.4"/>
<ellipse cx="510" cy="552" rx="90" ry="26" fill="#fff" stroke="#000" stroke-width="1.8"/>
<!-- lower counterweight -->
<path class="w" style="stroke-width:1.92" d="M365 420 Q365 390 410 375 L500 400 Q560 380 620 400 L662 430 L665 510 L640 530 L620 515 Q560 470 520 500 L515 535 Q480 550 420 530 L375 500 Z"/>
<path class="l" style="stroke-width:1.8" d="M375 455 Q420 480 490 460 L500 410 M380 500 L380 455 M400 520 L400 470 M490 460 L495 520 M620 515 L620 450 L662 430 M520 500 Q540 440 620 450 M640 530 L640 470"/>
<!-- upper counterweight -->
<path class="w" style="stroke-width:1.92" d="M410 270 Q410 245 450 240 L560 235 Q640 240 662 300 L665 350 L620 395 L600 380 Q560 350 520 370 L440 350 Q410 330 410 300 Z"/>
<path class="l" style="stroke-width:1.8" d="M412 300 Q440 330 500 330 L560 345 M600 380 L602 345 Q560 320 530 335 M662 330 L620 370"/>
<path class="w" style="stroke-width:1.92" d="M470 370 Q500 350 540 380 L560 400 L520 440 L480 420 Z"/>
<circle class="l" cx="515" cy="405" r="10"/>
<!-- upper journal -->
<path class="w" style="stroke-width:1.8" d="M430 290 L432 330 Q500 365 572 330 L572 290 Z"/>
<path class="w" style="stroke-width:1.8" d="M452 200 L452 310 Q500 340 555 310 L555 200 Z"/>
<ellipse class="w" cx="503" cy="200" rx="51" ry="17" style="stroke-width:1.8"/>
<path class="w" style="stroke-width:1.8" d="M465 140 L465 195 Q500 210 535 195 L525 140 Z"/>
<path class="k" d="M470 75 L522 72 L526 140 L468 142 Z"/>
<path stroke="#fff" stroke-width="1.2" fill="none" d="M482 80 L482 135 M495 78 L495 135 M508 78 L508 135"/>
<path class="l" d="M860 470 L690 462"/>
<path class="b" d="M430 330 Q500 365 572 330 M375 500 Q420 535 480 540 M410 300 L410 270 M440 350 L440 300" style="stroke-width:2.4"/>
<!-- 45 cap -->
<path class="w" style="stroke-width:2.04" d="M680 262 Q690 238 725 232 L790 240 Q835 265 845 300 L845 332 L805 365 L782 335 Q778 300 760 290 L722 285 L692 312 Z"/>
<path class="l" style="stroke-width:1.8" d="M692 312 L695 275 Q720 255 760 262 Q800 280 805 330 L805 365 M680 262 L695 275"/>
<circle class="k" cx="690" cy="290" r="6"/><circle class="k" cx="795" cy="345" r="6"/><circle class="k" cx="735" cy="238" r="5"/>
<path class="l" d="M925 360 L850 345"/>
<!-- 46 bolts -->
<path class="k" d="M795 205 L815 188 L870 158 L890 150 L895 165 L830 200 L805 218 Z"/>
<path stroke="#fff" stroke-width="1.68" fill="none" d="M830 190 L870 168"/>
<path class="k" d="M890 262 L925 240 L935 255 L898 280 Z"/>
<!-- 31 washer -->
<ellipse cx="535" cy="1025" rx="110" ry="62" fill="#000"/>
<ellipse cx="535" cy="1020" rx="107" ry="60" fill="none" stroke="#fff" stroke-width="1" stroke-dasharray="1 2"/>
<ellipse cx="535" cy="1005" rx="110" ry="62" fill="#fff" stroke="#000" stroke-width="2.64"/>
<ellipse class="l" cx="535" cy="1008" rx="52" ry="30" style="stroke-width:2.16"/>
<path class="l" d="M490 1020 Q535 1000 580 1022" style="stroke-width:1.68"/>
<path class="l" d="M750 845 L630 940"/>
<!-- 51A cam -->
<g>
<ellipse cx="158" cy="1398" rx="110" ry="60" fill="#000"/>
<ellipse cx="158" cy="1390" rx="106" ry="58" fill="none" stroke="#fff" stroke-width="1.1" stroke-dasharray="1 2"/><ellipse cx="158" cy="1378" rx="106" ry="58" fill="none" stroke="#fff" stroke-width="1.1" stroke-dasharray="1 2"/>
<path class="k" d="M140 1440 L176 1440 L165 1472 L150 1472 Z"/>
<ellipse cx="158" cy="1350" rx="110" ry="55" fill="#fff" stroke="#000" stroke-width="1.92"/>
<path class="w" style="stroke-width:1.8" d="M120 1070 L120 1350 Q158 1372 198 1350 L195 1060 Z"/>
<path class="w" style="stroke-width:1.8" d="M125 1050 Q70 1050 55 1100 L58 1175 L100 1185 L122 1160 Z"/>
<path class="l" d="M58 1130 Q90 1120 122 1100"/>
<path class="w" style="stroke-width:1.8" d="M122 1240 Q75 1245 60 1290 L62 1340 L100 1355 L122 1330 Z"/>
<path class="l" d="M62 1310 Q90 1300 122 1280"/>
<path class="w" style="stroke-width:1.92" d="M120 1062 L120 1100 Q158 1115 195 1100 L195 1062 Z"/>
<ellipse class="w" cx="158" cy="1062" rx="37" ry="14" style="stroke-width:2.4"/>
<path class="b" d="M120 1345 Q158 1365 198 1345" style="stroke-width:2.88"/>
<path class="l" d="M120 1160 Q130 1200 122 1240"/>
</g>
<g transform="translate(407 70)">
<ellipse cx="158" cy="1398" rx="110" ry="60" fill="#000"/>
<ellipse cx="158" cy="1390" rx="106" ry="58" fill="none" stroke="#fff" stroke-width="1.1" stroke-dasharray="1 2"/><ellipse cx="158" cy="1378" rx="106" ry="58" fill="none" stroke="#fff" stroke-width="1.1" stroke-dasharray="1 2"/>
<path class="k" d="M140 1440 L176 1440 L165 1472 L150 1472 Z"/>
<ellipse cx="158" cy="1350" rx="110" ry="55" fill="#fff" stroke="#000" stroke-width="1.92"/>
<path class="w" style="stroke-width:1.8" d="M120 1070 L120 1350 Q158 1372 198 1350 L195 1060 Z"/>
<path class="w" style="stroke-width:1.8" d="M125 1050 Q70 1050 55 1100 L58 1175 L100 1185 L122 1160 Z"/>
<path class="l" d="M58 1130 Q90 1120 122 1100"/>
<path class="w" style="stroke-width:1.8" d="M122 1240 Q75 1245 60 1290 L62 1340 L100 1355 L122 1330 Z"/>
<path class="l" d="M62 1310 Q90 1300 122 1280"/>
<path class="w" style="stroke-width:1.92" d="M120 1062 L120 1100 Q158 1115 195 1100 L195 1062 Z"/>
<ellipse class="w" cx="158" cy="1062" rx="37" ry="14" style="stroke-width:2.4"/>
<path class="b" d="M120 1345 Q158 1365 198 1345" style="stroke-width:2.88"/>
<path class="l" d="M120 1160 Q130 1200 122 1240"/>
</g>
<path class="l" d="M710 1145 L625 1270 M-65 1360 L30 1320"/>
</g>

<!-- region (740,560) scale 3.828 -->
<g class="ns" transform="translate(740 560) scale(0.261224)">
<!-- 11 reed -->
<path class="w" style="stroke-width:1.8" d="M180 272 Q182 250 215 232 L262 204 L276 208 L272 242 L218 282 Q188 298 180 272 Z"/>
<circle class="k" cx="262" cy="222" r="3"/>
<path class="l" d="M405 85 L285 195"/>
<!-- 11A -->
<path class="w" style="stroke-width:2.16" d="M265 310 L330 262 L350 240 L355 285 L330 300 L275 336 Z"/>
<path class="l" d="M282 312 L325 285 L325 298 L285 325 Z M330 262 L330 300 M340 265 L342 285"/>
<path class="l" d="M345 485 L305 345"/>
<!-- 11B -->
<path class="k" d="M402 310 L418 302 L432 312 L434 328 L420 336 L406 328 Z"/>
<path class="l" d="M680 220 L450 298"/>
<!-- 169 plate -->
<path class="w" style="stroke-width:1.8" d="M455 418 L462 398 L605 328 L614 345 L610 442 L470 535 Z"/>
<ellipse class="l" cx="567" cy="386" rx="24" ry="9" transform="rotate(-27 567 386)" style="stroke-width:1.8"/>
<path class="l" d="M500 495 L502 510 M520 483 L522 500"/>
<g class="k"><circle cx="463" cy="420" r="6"/><circle cx="608" cy="335" r="6"/><circle cx="606" cy="440" r="6"/><circle cx="470" cy="532" r="8"/></g>
<path class="l" d="M525 715 L540 510"/>
<!-- 172 cover -->
<path class="w" style="stroke-width:1.8" d="M625 518 L645 490 L775 418 L795 428 L795 545 L655 640 L635 652 L625 630 Z"/>
<path class="b" d="M632 520 L635 640 M628 515 L648 492 L778 420" style="stroke-width:3.6"/>
<path class="l" style="stroke-width:1.8" d="M655 520 L780 452 L782 540 L660 620 Z M740 475 L742 565"/>
<path class="b" d="M660 500 L770 440" style="stroke-width:3.12;stroke-dasharray:3 2"/>
<ellipse class="l" cx="760" cy="497" rx="10" ry="14"/>
<circle class="l" cx="640" cy="520" r="7"/><circle class="l" cx="640" cy="636" r="7"/><circle class="l" cx="785" cy="432" r="7"/>
<path class="l" d="M745 750 L705 625"/>
<!-- 174 -->
<path class="k" d="M866 484 L882 476 L898 486 L900 500 L884 508 L868 500 Z"/>
<path class="b" d="M965 385 Q940 430 892 474" style="stroke-width:2.16"/>
<!-- 173 -->
<path class="w" style="stroke-width:1.8" d="M905 580 Q910 566 930 565 L965 562 Q985 568 984 588 Q980 605 960 608 L925 618 Q905 612 905 595 Z"/>
<ellipse class="l" cx="958" cy="585" rx="17" ry="21" style="stroke-width:1.68"/>
<ellipse cx="912" cy="596" rx="20" ry="25" fill="#fff" stroke="#000" stroke-width="4.08"/>
<path class="l" d="M995 668 L950 625"/>
<!-- 46 bolts -->
<path class="l" d="M365 685 L340 795 M365 685 L410 825"/>
<path class="k" d="M230 828 L290 790 L300 775 L318 778 L322 798 L305 808 L240 842 Z"/>
<path class="k" d="M315 885 L375 848 L385 832 L402 835 L408 855 L390 866 L322 898 Z"/>
<path stroke="#fff" stroke-width="1.2" fill="none" d="M300 785 l10 14 M385 842 l10 14"/>
<!-- 45 cap lower -->
<path class="w" style="stroke-width:2.16" d="M130 880 Q140 855 175 850 L235 865 Q268 885 275 920 L272 950 L240 972 L218 950 Q215 915 200 905 L165 898 L138 918 Z"/>
<path class="l" style="stroke-width:1.8" d="M138 918 L142 885 Q165 870 200 878 Q235 895 240 940 L240 972 M130 880 L142 885"/>
<circle class="k" cx="140" cy="900" r="5"/><circle class="k" cx="232" cy="955" r="5"/><circle class="k" cx="185" cy="855" r="4"/>
<path class="l" d="M390 975 L275 945"/>
<!-- dashed under block -->
<path class="d" d="M90 230 L90 470" style="stroke-dasharray:8 4"/>
<path class="d" d="M105 330 L120 410 L155 475" style="stroke-dasharray:8 5"/>
<path class="w" style="stroke-width:1.68" d="M100 338 L110 336 L113 383 L103 385 Z"/>
<path class="l" d="M118 368 L150 395"/>
<circle class="k" cx="90" cy="470" r="5"/>
<path class="d" d="M-10 458 L80 488" style="stroke-dasharray:6 4"/>
<path class="l" d="M90 470 L90 520" style="stroke-width:1.68"/>
<path class="d" d="M160 150 L245 185" style="stroke-dasharray:8 4"/>
</g>
<!-- 15 governor shaft + dashes -->
<g>
<path class="l" d="M694 661 L699 657.5 L704 659 M694 661 Q692.5 664.5 696 665" style="stroke-width:1.68"/>
<path class="b" d="M704 659 L722 668" style="stroke-width:2.4;stroke-dasharray:2 1.4"/>
<path class="d" d="M722 668 L756 683" style="stroke-dasharray:5 3"/>
<path class="l" d="M693 668 L672 692"/>
</g>

<!-- region (760,890) scale 3.828 -->
<g class="ns" transform="translate(760 890) scale(0.261224)">
<!-- 83 -->
<path class="w" style="stroke-width:1.92" d="M660 215 Q666 205 672 215 L674 252 L690 260 L688 272 L645 272 L643 260 L658 252 Z"/>
<path class="b" d="M662 220 L662 250" style="stroke-width:2.4"/>
<path class="l" d="M770 165 L695 215"/>
<!-- 81 -->
<ellipse cx="668" cy="318" rx="17" ry="7" fill="#fff" stroke="#000" stroke-width="3.12"/>
<path class="l" d="M808 250 L700 315"/>
<!-- 84 -->
<path class="k" d="M658 370 L674 370 L666 382 Z"/>
<path class="l" d="M505 278 L600 340"/>
<!-- 82 -->
<ellipse cx="668" cy="480" rx="54" ry="36" fill="#000"/>
<path class="k" d="M635 450 Q640 420 668 418 Q700 425 705 455 L715 480 L625 480 Z"/>
<path stroke="#fff" stroke-width="1.56" fill="none" d="M622 478 Q660 505 712 478 M650 440 L665 455 L690 440 M660 425 L662 445 M680 450 L700 470 M640 465 L660 470 M632 490 Q665 515 705 492" />
<path stroke="#fff" stroke-width="1.1" fill="none" stroke-dasharray="2 3" d="M618 488 Q668 530 718 488"/>
<path class="l" d="M822 485 L740 485"/>
<!-- 80 -->
<path class="w" style="stroke-width:1.8" d="M668 555 L681 555 L682 655 L676 662 L670 655 Z"/>
<path class="b" d="M675 600 L675 655" style="stroke-width:2.4"/>
<path class="l" d="M818 665 L700 595"/>
<!-- 81 lower -->
<ellipse cx="678" cy="708" rx="16" ry="8" fill="#fff" stroke="#000" stroke-width="3.12"/>
<circle class="k" cx="678" cy="708" r="4"/>
<path class="l" d="M790 800 L710 705"/>
<!-- dashed -->
<path class="d" d="M680 725 L682 820 Q680 840 650 852 L-115 1306" style="stroke-dasharray:8 4"/>
<path class="d" d="M295 985 L295 1040 L-130 1262" style="stroke-dasharray:8 4"/>
<!-- 385-387 -->
<path class="k" d="M278 862 L296 858 L300 912 L282 916 Z"/>
<path class="k" d="M287 960 L293 945 L300 960 Z"/>
<path class="l" d="M293 958 L293 985"/>
<path class="l" d="M390 590 L290 770 M395 695 L300 850 M405 795 L318 955"/>
<path class="d" d="M272 790 L268 825" style="stroke-dasharray:5 3"/>
<!-- 381 leader -->
<path class="l" d="M105 860 L70 940"/>
<path class="d" d="M68 1060 L68 1140 L30 1165" style="stroke-dasharray:7 4"/>
</g>

<!-- region (500,1050) scale 3.603 -->
<g class="ns" transform="translate(500 1050) scale(0.277551)">
<path class="l" style="stroke-width:1.68" d="M320 215 L400 160 L560 75 L885 240 L800 295 L785 360 L700 440 L570 470 L470 455 L420 400 L320 290 Z"/>
<path class="l" style="stroke-width:1.56" d="M332 220 L405 172 L560 88 L865 242 L790 290 L775 352 L695 428 L570 458 L475 443 L428 392 L332 286 Z"/>
<g class="k"><circle cx="325" cy="218" r="5"/><circle cx="403" cy="160" r="5"/><circle cx="560" cy="78" r="5"/><circle cx="770" cy="180" r="5"/><circle cx="880" cy="240" r="4"/><circle cx="790" cy="355" r="5"/><circle cx="705" cy="438" r="5"/><circle cx="530" cy="468" r="5"/><circle cx="460" cy="450" r="5"/><circle cx="418" cy="400" r="4"/><circle cx="325" cy="290" r="4"/></g>
<path class="l" d="M570 60 L570 560" style="stroke-width:1.56"/>
<path class="l" d="M140 152 L335 188"/>
<!-- 72B -->
<path class="w" style="stroke-width:1.92" d="M632 318 L660 302 L685 305 L685 325 L655 340 L635 338 Z"/>
<path class="b" d="M640 315 L645 335 M652 310 L656 335" style="stroke-width:2.16"/>
<path class="l" d="M668 265 L668 300"/>
<path class="d" d="M645 340 L645 800" style="stroke-dasharray:7 4"/>
<!-- 381 382 -->
<path class="k" d="M993 320 L1000 318 L1002 350 L995 350 Z"/>
<path class="l" d="M1035 230 L1000 310"/>
<path class="k" d="M942 398 L985 396 L1068 412 L1020 416 Z"/>
<path class="l" d="M895 480 L965 430"/>
<path class="d" d="M1000 420 L1000 500" style="stroke-dasharray:6 3"/>
<!-- 70/72/72A leaders -->
<path class="l" d="M160 325 L415 565 M150 505 L220 590 M365 485 L415 510 M975 700 L945 745"/>
<!-- 72A pills -->
<g transform="rotate(28 448 525)"><rect class="k" x="418" y="508" width="60" height="34" rx="15"/><path stroke="#fff" stroke-width="1.2" fill="none" d="M435 512 L435 538 M448 512 L448 538 M461 512 L461 538"/></g>
<g transform="rotate(22 925 772)"><rect class="k" x="893" y="756" width="62" height="32" rx="15"/><path stroke="#fff" stroke-width="1.2" fill="none" d="M910 760 L910 784 M924 760 L924 784 M938 760 L938 784"/></g>
<!-- 72 plug -->
<path class="k" d="M212 625 L235 608 L258 618 L268 640 L255 662 L232 655 Z"/>
<path class="w" style="stroke-width:1.56" d="M240 625 Q262 625 266 645 L254 662 Q238 655 236 640 Z"/>
<!-- dashed from governor to sump -->

</g>

<!-- region (540,1180) scale 4.7115 -->
<g class="ns" transform="translate(540 1180) scale(0.212245)">
<path class="w" style="stroke-width:1.8" d="M115 430 Q118 405 140 398 L215 365 L245 345 L245 245 L355 165 L555 60 L990 275 L990 300 L970 330 L965 440 L880 490 L880 520 L845 545 L840 655 L760 670 L720 640 L710 690 Q650 730 600 725 Q520 720 480 700 L400 640 L400 600 L355 595 L300 520 L300 500 L150 490 Q115 470 115 430 Z"/>
<!-- rim -->
<path class="l" style="stroke-width:1.8" d="M265 255 L365 185 L555 85 L955 285 L870 350 L860 395 L780 450 M245 245 L265 255 L262 345 M990 275 L955 285 M280 250 L370 195 L555 100 L930 288"/>
<path class="b" d="M355 165 L555 60 L700 132" style="stroke-width:2.16"/>
<circle class="l" cx="262" cy="245" r="7"/><circle class="l" cx="365" cy="178" r="8"/><circle class="l" cx="555" cy="72" r="8"/><circle class="l" cx="825" cy="200" r="8"/><circle class="l" cx="965" cy="285" r="7"/><circle class="l" cx="148" cy="430" r="9"/>
<!-- left ear -->
<path class="l" style="stroke-width:1.8" d="M130 455 L215 420 L215 365 M215 420 L240 470 L300 500 M245 345 L300 380 L380 500 M262 345 L320 385 L395 495 M355 595 L380 500 L400 520 L400 600"/>
<path class="k" d="M352 485 l28 12 l-5 35 l-28 -12 Z"/>
<!-- interior bosses -->
<path class="l" style="stroke-width:1.8" d="M375 195 L378 330 M410 200 L412 320 M530 110 L535 250 M600 110 L600 250 M480 200 L480 260 M520 190 L522 270 M800 215 L805 330 M850 225 L852 340 M718 165 L720 215 L800 245 M700 200 L790 235"/>
<path class="w" style="stroke-width:1.92" d="M435 345 L440 470 L520 500 L575 460 L570 345 Z"/>
<ellipse class="w" cx="502" cy="345" rx="68" ry="36" style="stroke-width:2.16"/>
<ellipse class="l" cx="502" cy="348" rx="56" ry="28" style="stroke-width:1.56"/>
<ellipse class="l" cx="355" cy="350" rx="22" ry="36" transform="rotate(25 355 350)" style="stroke-width:1.8"/>
<ellipse class="l" cx="355" cy="350" rx="10" ry="20" transform="rotate(25 355 350)"/>
<path class="k" d="M535 230 l40 0 l0 35 l-40 0 Z M650 245 l35 5 l0 30 l-35 -5 Z M690 300 l50 15 l0 25 l-50 -15 Z M570 450 l60 -10 l40 25 l-5 20 l-95 5 Z M680 490 l35 -5 l5 40 l-35 5 Z"/>
<path stroke="#fff" stroke-width="1.2" fill="none" d="M545 240 l20 0 l0 18 l-20 0 Z M660 255 l15 3"/>
<path class="l" style="stroke-width:1.92" d="M580 270 L585 350 L650 370 L650 290 M650 330 L700 345 L705 420 L760 440 L760 350 M600 300 L640 310 M440 270 Q470 250 500 280 M470 300 L520 300 L560 280 M590 380 L700 420 M560 470 L555 560 L640 570 L645 480 M520 500 L515 580 M700 460 L780 520 L780 570 M760 440 L830 480 L845 545 M600 480 Q640 460 660 500 L655 540"/>
<path class="b" d="M700 300 L860 395 M580 440 Q640 420 700 455 M440 545 L520 585 L640 580 L760 545" style="stroke-width:2.64"/>
<circle class="l" cx="640" cy="488" r="12"/><circle class="k" cx="800" cy="468" r="6"/><circle class="k" cx="850" cy="435" r="6"/><circle class="k" cx="530" cy="590" r="7"/><circle class="k" cx="745" cy="545" r="6"/>
<path class="l" style="stroke-width:1.8" d="M440 270 L445 340 M470 215 L470 290 M505 190 L505 250 M610 250 L612 330 M660 280 L660 330 M740 330 L742 420 M790 360 L790 440 M830 340 L832 400 M580 520 L582 560 M620 520 L620 565 M300 400 L345 430 L345 480 M420 430 L430 520 M880 360 L880 440 M900 330 L905 420 M700 225 L705 290 L760 310 M560 110 L562 180"/>
<path class="b" d="M440 470 L520 500 L575 460 M540 265 L575 265 M650 280 L685 285 M480 260 L520 270" style="stroke-width:2.4"/>
<circle class="l" cx="700" cy="330" r="10"/><circle class="l" cx="600" cy="270" r="8"/><circle class="l" cx="470" cy="300" r="8"/><circle class="l" cx="835" cy="435" r="8"/>
<!-- lower bowl -->
<path class="l" style="stroke-width:1.8" d="M400 600 Q420 560 440 545 M400 600 L500 620 Q620 630 720 600 L780 570 L790 535 M500 620 L505 700 M570 625 L572 715 M720 600 L720 640 M790 600 Q800 560 815 545 L820 650 M760 620 Q752 635 762 648"/>
<path class="d" d="M520 640 L525 690 M560 650 L565 700" style="stroke-dasharray:5 3"/>
<path class="d" d="M460 480 L560 420 M780 260 L860 230 M820 300 L930 260" style="stroke-dasharray:6 3"/>
<!-- dashes -->
<path class="d" d="M600 728 L600 942" style="stroke-dasharray:8 4"/>


<!-- 86 bolt -->
<path class="k" d="M353 712 L366 710 L370 795 L380 798 L380 828 L346 830 L345 798 L352 795 Z"/>
<path class="l" d="M190 830 L320 770"/>
<!-- 75 seal -->
<ellipse class="w" cx="500" cy="845" rx="76" ry="48" style="stroke-width:1.92"/>
<ellipse cx="500" cy="832" rx="70" ry="40" fill="#fff" stroke="#000" stroke-width="5.4"/>
<ellipse class="l" cx="500" cy="836" rx="48" ry="24" style="stroke-width:1.8"/>
<path class="l" d="M425 870 L285 942"/>
<!-- small pin 52A -->
<path class="w" style="stroke-width:1.68" d="M592 885 L608 885 L610 920 L594 920 Z"/>
</g>

<!-- region (330,1020) scale 6.607 -->
<g class="ns" transform="translate(330 1020) scale(0.151362)">
<!-- 270A spacer -->
<path class="w" style="stroke-width:1.8" d="M390 320 L392 455 Q445 500 500 455 L500 320 Z"/>
<ellipse class="w" cx="445" cy="322" rx="55" ry="26" style="stroke-width:2.16"/>
<path class="l" d="M420 345 L425 365 M440 350 L440 362"/>
<path class="l" d="M555 0 L480 275"/>
<!-- 269 gasket -->
<path class="w" style="stroke-width:1.92" d="M325 632 L400 572 L580 560 L618 568 L622 600 L600 615 L520 662 L350 657 Z"/>
<ellipse cx="465" cy="610" rx="74" ry="44" fill="#fff" stroke="#000" stroke-width="4.32"/>
<rect class="l" x="575" y="572" width="30" height="32" style="stroke-width:1.8"/>
<ellipse class="l" cx="362" cy="640" rx="14" ry="8"/>
<path class="l" d="M800 820 L605 655"/>
<!-- 270 pipe -->
<path class="w" style="stroke-width:1.92" d="M150 760 Q140 705 195 680 Q225 672 250 690 L600 800 L650 850 L645 890 L520 965 L350 972 L310 935 L305 905 L215 810 Q165 800 150 760 Z"/>
<path class="l" style="stroke-width:1.8" d="M262 760 Q250 720 290 712 L580 808 M262 760 L345 880 M340 890 L600 800 M215 810 L330 890 M230 800 L340 875"/>
<path class="b" d="M220 805 L320 880" style="stroke-width:4.2;stroke-dasharray:3 2"/>
<path class="b" d="M310 930 L350 960 L520 955 L645 880" style="stroke-width:4.8"/>
<path class="l" d="M340 905 L520 925 L640 860"/>
<ellipse class="w" cx="470" cy="852" rx="50" ry="30" style="stroke-width:2.88"/>
<path class="w" style="stroke-width:2.16" d="M455 878 L455 905 L490 905 L490 878"/>
<circle class="k" cx="368" cy="878" r="12"/><circle class="k" cx="580" cy="825" r="10"/>
<path class="d" d="M545 915 L630 865" style="stroke-dasharray:4 3"/>

<path class="k" d="M520 1030 Q540 1020 570 1025 L580 1060 L545 1070 L522 1055 Z"/>
</g>

<!-- region (60,1160) scale 3.0625 -->
<g class="ns" transform="translate(60 1160) scale(0.326531)">
<!-- 284 -->
<path class="w" style="stroke-width:1.8" d="M428 185 Q432 160 455 155 L500 160 L568 225 L548 272 L465 235 Q430 225 428 185 Z"/>
<path class="l" style="stroke-width:1.68" d="M455 155 Q480 175 465 235 M548 272 Q540 245 568 225"/>
<path class="k" d="M488 152 L520 148 L538 165 L530 185 L498 188 Z"/>
<path stroke="#fff" stroke-width="1" fill="none" d="M498 160 L525 175"/>
<path class="k" d="M465 232 l8 0 l0 10 l-8 0 Z"/>
<!-- 294 kit -->
<path class="w" style="stroke-width:1.92" d="M120 365 L275 255 L385 305 L385 325 L240 440 L120 400 Z"/>
<path class="b" d="M120 365 L240 415 L385 305 M240 415 L240 440" style="stroke-width:2.16"/>
<path class="l" d="M135 385 L225 422 M135 395 L225 432"/>
<path class="l" d="M290 400 L335 455"/>
<!-- 48 bolt -->
<path class="w" style="stroke-width:1.8" d="M1082 498 L1140 462 L1150 478 L1095 515 Q1082 512 1082 498 Z"/>
<ellipse class="w" cx="1160" cy="466" rx="18" ry="27" transform="rotate(-20 1160 466)" style="stroke-width:2.16"/>
<ellipse class="l" cx="1152" cy="468" rx="10" ry="18" transform="rotate(-20 1152 468)"/>
<path class="d" d="M1040 445 L1085 470" style="stroke-dasharray:5 2"/>
<!-- 271 tube -->
<path class="l" style="stroke-width:1.8" d="M985 105 Q1000 95 1015 105 L1035 118 Q1060 115 1085 100 Q1105 85 1100 70 L1085 60 M990 118 L1030 135 Q1065 135 1095 115 Q1125 95 1120 70 Q1110 45 1085 45"/>
<ellipse class="l" cx="998" cy="108" rx="14" ry="9" style="stroke-width:1.8"/>
<ellipse class="l" cx="1085" cy="58" rx="10" ry="12" style="stroke-width:2.16"/>
<!-- 277 -->
<path class="k" d="M995 175 L1004 175 L1006 238 L1012 242 L1012 260 L1000 266 L990 260 L990 242 L995 238 Z"/>
<circle cx="1001" cy="252" r="4" fill="#fff"/>
<path class="l" d="M1105 232 L1035 245"/>
<path class="d" d="M1000 130 L1000 175" style="stroke-dasharray:8 4"/>
<!-- 420 bottle -->
<path class="w" style="stroke-width:1.8" d="M340 880 L430 800 L430 790 L462 790 L465 800 L495 842 L500 1000 L395 1065 L345 1040 Z"/>
<path class="k" d="M430 768 Q445 758 462 766 L462 795 L430 795 Z"/>
<path class="l" style="stroke-width:1.68" d="M340 880 L385 900 L385 1060 M385 900 L495 845 M400 910 L440 895"/>
<path class="d" d="M372 900 L375 1040 M410 1040 L490 990" style="stroke-dasharray:7 4;stroke-width:1.8"/>
<path class="l" d="M330 808 L375 835" style="stroke-width:2.16"/>
<!-- 400 box -->
<path class="w" style="stroke-width:1.92" d="M640 930 L750 860 L865 925 L865 955 L755 1025 L640 962 Z"/>
<path class="l" style="stroke-width:1.92" d="M640 930 L755 995 L865 925 M755 995 L755 1025"/>
<path class="l" d="M862 850 L820 892"/>
</g>
<g style="font-family:'Liberation Sans',sans-serif">
<text x="0" y="0" transform="translate(113 1283) rotate(-36)" style="font-size:7.5px;font-weight:bold;stroke:none">FUEL PUMP</text>
<text x="0" y="0" transform="translate(126 1285) rotate(-36)" style="font-size:7.5px;font-weight:bold;stroke:none">REPAIR</text>
<text x="0" y="0" transform="translate(138 1285) rotate(-36)" style="font-size:7.5px;font-weight:bold;stroke:none">KIT</text>
<text x="288" y="1463" textLength="34" lengthAdjust="spacingAndGlyphs" transform="rotate(-8 305 1460)" style="font-size:7.5px;font-weight:bold;stroke:none">GASKET</text>
<text x="298" y="1472" textLength="15" lengthAdjust="spacingAndGlyphs" transform="rotate(-8 305 1470)" style="font-size:7.5px;font-weight:bold;stroke:none">SET</text>
</g>
<rect x="127" y="1575" width="142" height="1" fill="#0000ee"/>

<!-- region (380,1220) scale 3.603 -->
<g class="ns" transform="translate(380 1220) scale(0.277551)">
<!-- 50 gear -->
<ellipse cx="430" cy="348" rx="143" ry="84" fill="#000"/>
<ellipse cx="430" cy="343" rx="139" ry="82" fill="none" stroke="#fff" stroke-width="1" stroke-dasharray="1 2"/>
<ellipse cx="430" cy="332" rx="143" ry="84" fill="#fff" stroke="#000" stroke-width="2.16"/>
<ellipse class="l" cx="430" cy="332" rx="116" ry="64" style="stroke-width:1.92"/>
<path class="w" style="stroke-width:1.92" d="M365 320 Q370 300 395 298 L430 330 L420 360 L390 365 Q365 350 365 320 Z"/>
<path class="w" style="stroke-width:1.92" d="M400 230 L402 300 Q430 318 460 300 L462 225 Z"/>
<path class="b" d="M425 300 L425 340 M440 300 L440 335 M452 298 L452 330" style="stroke-width:2.4"/>
<path class="w" style="stroke-width:1.92" d="M395 180 L395 225 Q430 245 468 225 L468 180 L455 165 L408 165 Z"/>
<path class="w" style="stroke-width:1.92" d="M408 135 L408 170 Q430 182 452 170 L452 135 Z"/>
<path class="k" d="M410 125 L440 120 L442 138 L410 140 Z"/>
<path class="l" d="M395 200 Q430 220 468 200 M355 310 L365 318"/>
<path class="l" d="M322 170 L362 235"/>
<path class="d" d="M438 425 L438 512 L820 290" style="stroke-dasharray:7 4"/>
<!-- leaders -->
<path class="l" d="M715 625 L895 520 M910 665 L1005 580 M815 830 L975 755 M885 1005 L985 938 M1100 685 L1200 745 M1145 885 L1190 965"/>
<!-- 52A pin extension -->
<path class="w" style="stroke-width:1.68" d="M1028 538 L1048 535 L1050 600 L1030 602 Z"/>
<!-- 52 gear -->
<ellipse cx="1048" cy="668" rx="45" ry="27" fill="#fff" stroke="#000" stroke-width="1.8"/>
<ellipse cx="1048" cy="658" rx="44" ry="26" fill="#fff" stroke="#000" stroke-width="4.08"/>
<ellipse class="l" cx="1048" cy="658" rx="26" ry="13" style="stroke-width:2.4"/>
<path class="b" d="M1025 655 L1070 660" style="stroke-width:2.4"/>
<!-- 52B oring -->
<ellipse class="l" cx="1048" cy="748" rx="58" ry="34" style="stroke-width:2.64"/>
<!-- 52C cover -->
<path class="w" style="stroke-width:1.92" d="M968 862 Q985 830 1010 806 Q1040 792 1078 796 Q1110 820 1130 850 Q1128 872 1105 890 L1000 896 Q975 885 968 862 Z"/>
<circle class="k" cx="1030" cy="820" r="5"/><circle class="k" cx="1118" cy="858" r="5"/><circle class="k" cx="1000" cy="880" r="5"/>
<!-- 52D screw -->
<path class="k" d="M1002 930 L1012 930 L1013 955 L1025 960 L1022 978 L995 980 L990 962 L1001 955 Z"/>
<rect x="1002" y="962" width="10" height="10" fill="#fff"/>
</g>

<!-- region (690,1200) scale 3.828 -->
<g class="ns" transform="translate(690 1200) scale(0.261224)">
<!-- 479 -->
<path class="k" d="M342 372 L352 368 L356 395 L360 400 L358 445 L354 452 L352 480 L342 480 L340 452 L336 445 L336 400 L340 395 Z"/>
<path class="l" d="M425 225 L370 360"/>
<!-- 111 -->
<path class="l" d="M605 50 L606 72 Q600 95 585 115 L468 290"/>
<path class="k" d="M458 292 L470 288 L488 312 L488 335 L478 342 L478 360 L458 360 L458 342 L446 335 L446 312 Z"/>
<path stroke="#fff" stroke-width="1.2" fill="none" d="M448 325 L486 325"/>
<!-- 476 -->
<path class="w" style="stroke-width:2.16" d="M460 375 L515 372 L518 470 L500 475 L462 440 Z"/>
<path class="b" d="M470 380 L470 430 M495 378 L497 440 M480 400 L480 420" style="stroke-width:2.4"/>
<ellipse class="w" cx="445" cy="478" rx="62" ry="82" transform="rotate(-22 445 478)" style="stroke-width:2.16"/>
<ellipse class="l" cx="442" cy="476" rx="46" ry="64" transform="rotate(-22 442 476)" style="stroke-width:1.8"/>
<ellipse cx="438" cy="475" rx="30" ry="42" transform="rotate(-22 438 475)" fill="#000"/>
<path stroke="#fff" stroke-width="1.1" fill="none" d="M425 450 L455 500 M420 470 L445 510 M440 445 L462 485"/>
<path class="l" d="M500 475 L512 520 L490 545" style="stroke-width:1.8"/>
<path class="l" d="M580 265 L525 375"/>
<!-- 477 -->
<path class="k" d="M595 455 L660 452 L665 445 L692 448 L695 488 L668 492 L660 480 L598 472 Z"/>
<rect x="670" y="456" width="14" height="26" fill="#fff"/>
<path class="l" d="M755 360 L690 435"/>
<!-- dashes -->
<path class="d" d="M105 435 L335 450 M520 462 L592 465" style="stroke-dasharray:8 4;stroke-width:1.92"/>
<!-- 475 filter -->
<path class="w" style="stroke-width:1.8" d="M150 560 L225 512 Q270 500 305 535 Q340 575 338 622 Q332 655 305 682 L215 722 Z"/>
<ellipse class="w" cx="186" cy="640" rx="64" ry="82" transform="rotate(-15 186 640)" style="stroke-width:1.92"/>
<ellipse class="l" cx="180" cy="645" rx="34" ry="46" transform="rotate(-15 180 645)" style="stroke-width:1.68"/>
<path class="l" d="M160 640 Q165 610 185 605" style="stroke-width:1.56"/>
<path class="l" style="stroke-width:1.68" d="M175 545 Q235 560 262 640 Q265 690 245 712 M160 555 L178 570 M185 548 L200 565 M215 575 L230 590 M238 610 L252 622 M250 650 L262 660 M250 690 L262 695"/>
<path class="l" d="M390 755 L310 695"/>
<!-- 478 screen -->
<path class="w" style="stroke-width:2.04" d="M860 905 L898 822 L930 805 L990 855 L996 950 L938 1045 L905 1042 L864 990 Z"/>
<path class="l" style="stroke-width:1.92" d="M874 910 L906 835 L930 822 L978 862 L982 945 L932 1030 L910 1028 L876 985 Z"/>
<path class="b" d="M890 960 L940 850 M900 985 L958 860 M915 1005 L972 880 M930 1020 L980 920" style="stroke-width:2.4"/>
<path class="b" d="M900 822 L930 805 L990 855" style="stroke-width:2.88"/>
<path class="l" d="M920 730 L922 805"/>
<!-- 52/52C leaders -->
</g>

<g><text x="240" y="207" textLength="41" lengthAdjust="spacingAndGlyphs">282</text>
<text x="123" y="237.5" textLength="37" lengthAdjust="spacingAndGlyphs">281</text>
<text x="336" y="202" textLength="40" lengthAdjust="spacingAndGlyphs">103</text>
<text x="335" y="225" textLength="40" lengthAdjust="spacingAndGlyphs">100</text>
<text x="292" y="294.5" textLength="30.5" lengthAdjust="spacingAndGlyphs" class="s">101A</text>
<text x="325" y="290.5" textLength="36" lengthAdjust="spacingAndGlyphs">101</text>
<text x="225" y="298.5" textLength="43" lengthAdjust="spacingAndGlyphs">395</text>
<text x="117" y="305" textLength="42" lengthAdjust="spacingAndGlyphs">330</text>
<text x="225" y="389.5" textLength="38" lengthAdjust="spacingAndGlyphs">361</text>
<text x="380" y="479" textLength="26" lengthAdjust="spacingAndGlyphs">68</text>
<text x="265" y="501" textLength="25.5" lengthAdjust="spacingAndGlyphs">62</text>
<text x="105" y="530.5" textLength="46.5" lengthAdjust="spacingAndGlyphs">60A</text>
<text x="261" y="561.5" textLength="43" lengthAdjust="spacingAndGlyphs">265</text>
<text x="100.5" y="619" textLength="44.5" lengthAdjust="spacingAndGlyphs">60B</text>
<text x="328" y="619.5" textLength="40" lengthAdjust="spacingAndGlyphs">127</text>
<text x="276" y="632.5" textLength="40.5" lengthAdjust="spacingAndGlyphs">128</text>
<text x="237.5" y="663" textLength="40.5" lengthAdjust="spacingAndGlyphs">130</text>
<text x="478" y="292.6" textLength="39" lengthAdjust="spacingAndGlyphs">102</text>
<text x="429.6" y="416.5" textLength="38.5" lengthAdjust="spacingAndGlyphs">110</text>
<text x="549.5" y="261" textLength="44" lengthAdjust="spacingAndGlyphs">322</text>
<text x="578" y="289.2" textLength="31.5" lengthAdjust="spacingAndGlyphs" class="m">323</text>
<text x="522" y="327.5" textLength="28.5" lengthAdjust="spacingAndGlyphs" class="m">321</text>
<text x="531" y="378" textLength="37" lengthAdjust="spacingAndGlyphs" class="bd">319</text>
<text x="563" y="401.5" textLength="41.5" lengthAdjust="spacingAndGlyphs" class="bd">320</text>
<text x="757" y="360" textLength="43" lengthAdjust="spacingAndGlyphs">325</text>
<text x="778.7" y="395.8" textLength="25.5" lengthAdjust="spacingAndGlyphs" class="sm">314</text>
<text x="761.7" y="423" textLength="26" lengthAdjust="spacingAndGlyphs" class="m">315</text>
<text x="748.4" y="455.7" textLength="27.5" lengthAdjust="spacingAndGlyphs">20</text>
<text x="563.5" y="485.7" textLength="8" lengthAdjust="spacingAndGlyphs">1</text>
<text x="431" y="496.4" textLength="27" lengthAdjust="spacingAndGlyphs">66</text>
<text x="393" y="496.4" textLength="22" lengthAdjust="spacingAndGlyphs">63</text>
<text x="438.6" y="533.7" textLength="28.5" lengthAdjust="spacingAndGlyphs">60</text>
<text x="467.3" y="569" textLength="28" lengthAdjust="spacingAndGlyphs">65</text>
<text x="438.6" y="595.6" textLength="37.5" lengthAdjust="spacingAndGlyphs">119</text>
<text x="404" y="619.6" textLength="40" lengthAdjust="spacingAndGlyphs">126</text>
<text x="777" y="669.6" textLength="12.5" lengthAdjust="spacingAndGlyphs">2</text>
<text x="385.4" y="661.3" textLength="33" lengthAdjust="spacingAndGlyphs" class="sb">161A</text>
<text x="478" y="707" textLength="38.5" lengthAdjust="spacingAndGlyphs">125</text>
<text x="1010.8" y="184" textLength="38" lengthAdjust="spacingAndGlyphs">91A</text>
<text x="1033" y="209.3" textLength="21.5" lengthAdjust="spacingAndGlyphs">91</text>
<text x="815" y="260" textLength="28" lengthAdjust="spacingAndGlyphs">90</text>
<text x="883.6" y="303.9" textLength="39.5" lengthAdjust="spacingAndGlyphs">310</text>
<text x="873.3" y="370.5" textLength="41.5" lengthAdjust="spacingAndGlyphs">307</text>
<text x="942.6" y="374.8" textLength="28.5" lengthAdjust="spacingAndGlyphs">90</text>
<text x="911.6" y="414.8" textLength="42" lengthAdjust="spacingAndGlyphs">305</text>
<text x="913.6" y="456.4" textLength="41.5" lengthAdjust="spacingAndGlyphs">346</text>
<text x="911.6" y="486.4" textLength="42" lengthAdjust="spacingAndGlyphs">309</text>
<text x="847.6" y="533.7" textLength="42.5" lengthAdjust="spacingAndGlyphs">306</text>
<text x="985.2" y="534.7" textLength="57.5" lengthAdjust="spacingAndGlyphs">325A</text>
<text x="1004.2" y="584.6" textLength="55.5" lengthAdjust="spacingAndGlyphs">325B</text>
<text x="846" y="586.3" textLength="19.5" lengthAdjust="spacingAndGlyphs">11</text>
<text x="902" y="612.3" textLength="38" lengthAdjust="spacingAndGlyphs">11B</text>
<text x="975.2" y="656.3" textLength="39.5" lengthAdjust="spacingAndGlyphs">174</text>
<text x="304.7" y="707.3" textLength="39" lengthAdjust="spacingAndGlyphs">135</text>
<text x="203.2" y="782.3" textLength="41.5" lengthAdjust="spacingAndGlyphs">159</text>
<text x="275.8" y="779.6" textLength="40.5" lengthAdjust="spacingAndGlyphs">150</text>
<text x="132.2" y="798.9" textLength="40.5" lengthAdjust="spacingAndGlyphs">160</text>
<text x="114.2" y="833.5" textLength="37.5" lengthAdjust="spacingAndGlyphs">161</text>
<text x="112.6" y="875.2" textLength="43.5" lengthAdjust="spacingAndGlyphs">280</text>
<text x="291.4" y="880.2" textLength="36.5" lengthAdjust="spacingAndGlyphs">151</text>
<text x="259" y="903.8" textLength="49" lengthAdjust="spacingAndGlyphs">161A</text>
<text x="83.3" y="917.8" textLength="59" lengthAdjust="spacingAndGlyphs">262A</text>
<text x="287.4" y="929.5" textLength="40.5" lengthAdjust="spacingAndGlyphs">157</text>
<text x="329.7" y="929.5" textLength="43" lengthAdjust="spacingAndGlyphs">156</text>
<text x="64" y="1077.7" textLength="41" lengthAdjust="spacingAndGlyphs">279</text>
<text x="150.5" y="1086.3" textLength="42" lengthAdjust="spacingAndGlyphs">275</text>
<text x="99.3" y="1131" textLength="33" lengthAdjust="spacingAndGlyphs" class="m2">416</text>
<text x="188.8" y="1134.3" textLength="56" lengthAdjust="spacingAndGlyphs">271A</text>
<text x="273.8" y="1174.3" textLength="43" lengthAdjust="spacingAndGlyphs">270</text>
<text x="247" y="1198.6" textLength="54.5" lengthAdjust="spacingAndGlyphs">284A</text>
<text x="492" y="768.4" textLength="39.5" lengthAdjust="spacingAndGlyphs">158</text>
<text x="498.4" y="802.4" textLength="38.5" lengthAdjust="spacingAndGlyphs">120</text>
<text x="451.8" y="824.6" textLength="38.5" lengthAdjust="spacingAndGlyphs">153</text>
<text x="491" y="853.3" textLength="26.5" lengthAdjust="spacingAndGlyphs">40</text>
<text x="427.3" y="867" textLength="40.5" lengthAdjust="spacingAndGlyphs">154</text>
<text x="123.5" y="1227" textLength="39.5" lengthAdjust="spacingAndGlyphs">284</text>
<text x="298.3" y="1222.7" textLength="38" lengthAdjust="spacingAndGlyphs">271</text>
<text x="650.5" y="714.6" textLength="25.5" lengthAdjust="spacingAndGlyphs">15</text>
<text x="747.7" y="714.6" textLength="42.5" lengthAdjust="spacingAndGlyphs">75A</text>
<text x="666" y="753" textLength="28" lengthAdjust="spacingAndGlyphs">89</text>
<text x="631.8" y="808" textLength="27.5" lengthAdjust="spacingAndGlyphs">45</text>
<text x="554.5" y="851.2" textLength="26.5" lengthAdjust="spacingAndGlyphs">43</text>
<text x="518" y="883.5" textLength="21.5" lengthAdjust="spacingAndGlyphs">41</text>
<text x="403" y="897" textLength="38.5" lengthAdjust="spacingAndGlyphs">155</text>
<text x="632.8" y="960.4" textLength="26.5" lengthAdjust="spacingAndGlyphs">43</text>
<text x="780.4" y="916" textLength="21.5" lengthAdjust="spacingAndGlyphs">31</text>
<text x="778.4" y="976" textLength="22" lengthAdjust="spacingAndGlyphs">51</text>
<text x="551.9" y="1021" textLength="27.5" lengthAdjust="spacingAndGlyphs">42</text>
<text x="394.7" y="1013.7" textLength="58.5" lengthAdjust="spacingAndGlyphs">270A</text>
<text x="558.5" y="1049.4" textLength="36.5" lengthAdjust="spacingAndGlyphs">51A</text>
<text x="508.6" y="1097.7" textLength="27.5" lengthAdjust="spacingAndGlyphs">69</text>
<text x="667" y="1123.6" textLength="41.5" lengthAdjust="spacingAndGlyphs">72B</text>
<text x="759.4" y="1109.3" textLength="36.5" lengthAdjust="spacingAndGlyphs">381</text>
<text x="452.3" y="1153.6" textLength="41.5" lengthAdjust="spacingAndGlyphs">269</text>
<text x="516.2" y="1142.6" textLength="27.5" lengthAdjust="spacingAndGlyphs">70</text>
<text x="518" y="1183.3" textLength="27" lengthAdjust="spacingAndGlyphs">72</text>
<text x="576.2" y="1183.3" textLength="38.5" lengthAdjust="spacingAndGlyphs">72A</text>
<text x="704.4" y="1190.2" textLength="43.5" lengthAdjust="spacingAndGlyphs">382</text>
<text x="553.8" y="1369" textLength="26.5" lengthAdjust="spacingAndGlyphs">86</text>
<text x="811.8" y="705.8" textLength="37.5" lengthAdjust="spacingAndGlyphs">11A</text>
<text x="834.6" y="737" textLength="26" lengthAdjust="spacingAndGlyphs">46</text>
<text x="860.7" y="766.4" textLength="37.5" lengthAdjust="spacingAndGlyphs">169</text>
<text x="917.6" y="779" textLength="38" lengthAdjust="spacingAndGlyphs">172</text>
<text x="984.2" y="759.8" textLength="39" lengthAdjust="spacingAndGlyphs">173</text>
<text x="847.1" y="824" textLength="26.5" lengthAdjust="spacingAndGlyphs">45</text>
<text x="816" y="851" textLength="28" lengthAdjust="spacingAndGlyphs">30</text>
<text x="952" y="929.2" textLength="27.5" lengthAdjust="spacingAndGlyphs">83</text>
<text x="871.8" y="956.6" textLength="26.5" lengthAdjust="spacingAndGlyphs">84</text>
<text x="973.7" y="963.1" textLength="23.5" lengthAdjust="spacingAndGlyphs">81</text>
<text x="978.1" y="1024.5" textLength="27.5" lengthAdjust="spacingAndGlyphs">82</text>
<text x="865.8" y="1051.4" textLength="43" lengthAdjust="spacingAndGlyphs">387</text>
<text x="867.1" y="1078.6" textLength="43" lengthAdjust="spacingAndGlyphs">386</text>
<text x="868.4" y="1106.8" textLength="43" lengthAdjust="spacingAndGlyphs">385</text>
<text x="973.7" y="1074.2" textLength="28" lengthAdjust="spacingAndGlyphs">80</text>
<text x="961.7" y="1118.6" textLength="23" lengthAdjust="spacingAndGlyphs">81</text>
<text x="831.8" y="1214" textLength="29" lengthAdjust="spacingAndGlyphs">111</text>
<text x="148.8" y="1335.7" textLength="39" lengthAdjust="spacingAndGlyphs">294</text>
<text x="370.9" y="1314" textLength="27" lengthAdjust="spacingAndGlyphs">48</text>
<text x="423" y="1243.3" textLength="42" lengthAdjust="spacingAndGlyphs">277</text>
<text x="123.7" y="1427" textLength="42.5" lengthAdjust="spacingAndGlyphs">420</text>
<text x="336" y="1433.6" textLength="44" lengthAdjust="spacingAndGlyphs">400</text>
<text x="448.8" y="1265.8" textLength="27" lengthAdjust="spacingAndGlyphs">50</text>
<text x="549.9" y="1406.5" textLength="27.5" lengthAdjust="spacingAndGlyphs">75</text>
<text x="586.8" y="1421.2" textLength="44.5" lengthAdjust="spacingAndGlyphs">52A</text>
<text x="559" y="1462" textLength="43" lengthAdjust="spacingAndGlyphs">52B</text>
<text x="582.6" y="1511.4" textLength="41.5" lengthAdjust="spacingAndGlyphs">52D</text>
<text x="717.5" y="1438" textLength="27" lengthAdjust="spacingAndGlyphs">52</text>
<text x="708" y="1502" textLength="44" lengthAdjust="spacingAndGlyphs">52C</text>
<text x="761.8" y="1238.7" textLength="43" lengthAdjust="spacingAndGlyphs">72A</text>
<text x="786.7" y="1256.2" textLength="36.5" lengthAdjust="spacingAndGlyphs">479</text>
<text x="827.1" y="1264.8" textLength="38" lengthAdjust="spacingAndGlyphs">476</text>
<text x="867.6" y="1292" textLength="38.5" lengthAdjust="spacingAndGlyphs">477</text>
<text x="794.5" y="1403.8" textLength="40.5" lengthAdjust="spacingAndGlyphs">475</text>
<text x="910" y="1390.2" textLength="42.5" lengthAdjust="spacingAndGlyphs">478</text></g>
</svg>
</body></html>
